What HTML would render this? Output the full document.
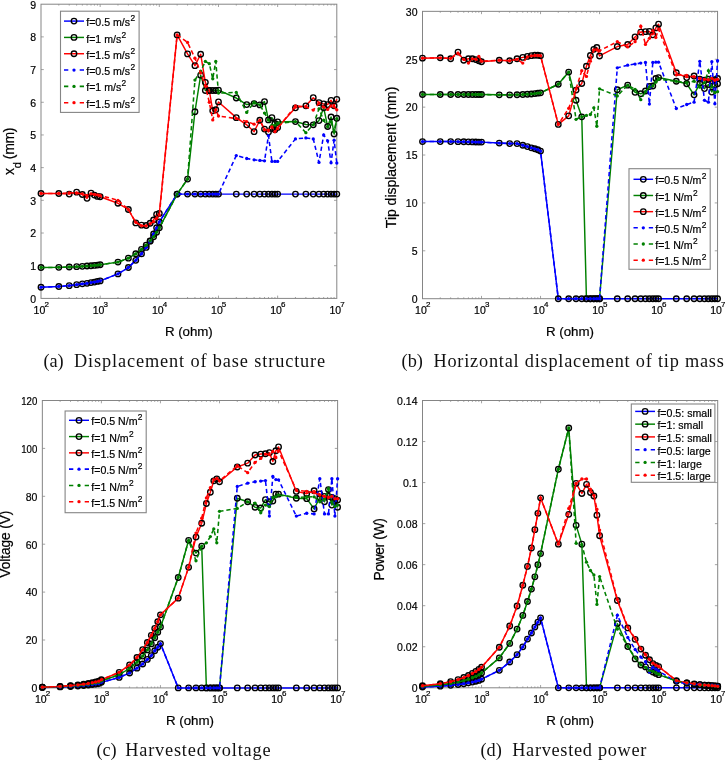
<!DOCTYPE html>
<html><head><meta charset="utf-8"><title>figure</title>
<style>
html,body{margin:0;padding:0;background:#fff;}
svg{display:block;font-family:"Liberation Sans",sans-serif;fill:#000;will-change:transform;}
svg text{stroke:#000;stroke-width:0.2px;}
svg text.cap{stroke:none;}
</style></head><body>
<svg width="725" height="761" viewBox="0 0 725 761">
<rect width="725" height="761" fill="#fff"/>
<g id="pa">
<path d="M58.81 298.4 v-1.4 M58.81 4.2 v1.4 M69.23 298.4 v-1.4 M69.23 4.2 v1.4 M76.62 298.4 v-1.4 M76.62 4.2 v1.4 M82.35 298.4 v-1.4 M82.35 4.2 v1.4 M87.04 298.4 v-1.4 M87.04 4.2 v1.4 M91 298.4 v-1.4 M91 4.2 v1.4 M94.43 298.4 v-1.4 M94.43 4.2 v1.4 M97.45 298.4 v-1.4 M97.45 4.2 v1.4 M100.16 298.4 v-2.8 M100.16 4.2 v2.8 M117.97 298.4 v-1.4 M117.97 4.2 v1.4 M128.39 298.4 v-1.4 M128.39 4.2 v1.4 M135.78 298.4 v-1.4 M135.78 4.2 v1.4 M141.51 298.4 v-1.4 M141.51 4.2 v1.4 M146.2 298.4 v-1.4 M146.2 4.2 v1.4 M150.16 298.4 v-1.4 M150.16 4.2 v1.4 M153.59 298.4 v-1.4 M153.59 4.2 v1.4 M156.61 298.4 v-1.4 M156.61 4.2 v1.4 M159.32 298.4 v-2.8 M159.32 4.2 v2.8 M177.13 298.4 v-1.4 M177.13 4.2 v1.4 M187.55 298.4 v-1.4 M187.55 4.2 v1.4 M194.94 298.4 v-1.4 M194.94 4.2 v1.4 M200.67 298.4 v-1.4 M200.67 4.2 v1.4 M205.36 298.4 v-1.4 M205.36 4.2 v1.4 M209.32 298.4 v-1.4 M209.32 4.2 v1.4 M212.75 298.4 v-1.4 M212.75 4.2 v1.4 M215.77 298.4 v-1.4 M215.77 4.2 v1.4 M218.48 298.4 v-2.8 M218.48 4.2 v2.8 M236.29 298.4 v-1.4 M236.29 4.2 v1.4 M246.71 298.4 v-1.4 M246.71 4.2 v1.4 M254.1 298.4 v-1.4 M254.1 4.2 v1.4 M259.83 298.4 v-1.4 M259.83 4.2 v1.4 M264.52 298.4 v-1.4 M264.52 4.2 v1.4 M268.48 298.4 v-1.4 M268.48 4.2 v1.4 M271.91 298.4 v-1.4 M271.91 4.2 v1.4 M274.93 298.4 v-1.4 M274.93 4.2 v1.4 M277.64 298.4 v-2.8 M277.64 4.2 v2.8 M295.45 298.4 v-1.4 M295.45 4.2 v1.4 M305.87 298.4 v-1.4 M305.87 4.2 v1.4 M313.26 298.4 v-1.4 M313.26 4.2 v1.4 M318.99 298.4 v-1.4 M318.99 4.2 v1.4 M323.68 298.4 v-1.4 M323.68 4.2 v1.4 M327.64 298.4 v-1.4 M327.64 4.2 v1.4 M331.07 298.4 v-1.4 M331.07 4.2 v1.4 M334.09 298.4 v-1.4 M334.09 4.2 v1.4 M41 265.71 h2.8 M336.8 265.71 h-2.8 M41 233.02 h2.8 M336.8 233.02 h-2.8 M41 200.33 h2.8 M336.8 200.33 h-2.8 M41 167.64 h2.8 M336.8 167.64 h-2.8 M41 134.96 h2.8 M336.8 134.96 h-2.8 M41 102.27 h2.8 M336.8 102.27 h-2.8 M41 69.58 h2.8 M336.8 69.58 h-2.8 M41 36.89 h2.8 M336.8 36.89 h-2.8" stroke="#9a9a9a" stroke-width="0.9" fill="none"/>
<rect x="41" y="4.2" width="295.8" height="294.2" fill="none" stroke="#858585" stroke-width="1"/>
<text x="36" y="302.7" text-anchor="end" font-size="10.5">0</text>
<text x="36" y="270.01" text-anchor="end" font-size="10.5">1</text>
<text x="36" y="237.32" text-anchor="end" font-size="10.5">2</text>
<text x="36" y="204.63" text-anchor="end" font-size="10.5">3</text>
<text x="36" y="171.94" text-anchor="end" font-size="10.5">4</text>
<text x="36" y="139.26" text-anchor="end" font-size="10.5">5</text>
<text x="36" y="106.57" text-anchor="end" font-size="10.5">6</text>
<text x="36" y="73.88" text-anchor="end" font-size="10.5">7</text>
<text x="36" y="41.19" text-anchor="end" font-size="10.5">8</text>
<text x="36" y="8.5" text-anchor="end" font-size="10.5">9</text>
<text x="33.6" y="313.8" font-size="10.5">10<tspan dy="-7.2" dx="-0.9" font-size="8">2</tspan></text>
<text x="92.76" y="313.8" font-size="10.5">10<tspan dy="-7.2" dx="-0.9" font-size="8">3</tspan></text>
<text x="151.92" y="313.8" font-size="10.5">10<tspan dy="-7.2" dx="-0.9" font-size="8">4</tspan></text>
<text x="211.08" y="313.8" font-size="10.5">10<tspan dy="-7.2" dx="-0.9" font-size="8">5</tspan></text>
<text x="270.24" y="313.8" font-size="10.5">10<tspan dy="-7.2" dx="-0.9" font-size="8">6</tspan></text>
<text x="329.4" y="313.8" font-size="10.5">10<tspan dy="-7.2" dx="-0.9" font-size="8">7</tspan></text>
<text x="188.9" y="335.8" text-anchor="middle" font-size="13.3" textLength="47.8" lengthAdjust="spacing">R (ohm)</text>
<text transform="translate(13.8 151.3) rotate(-90)" text-anchor="middle" font-size="14" textLength="47.3" lengthAdjust="spacing">x<tspan dy="6.8" font-size="11">d</tspan><tspan dy="-6.8"> (mm)</tspan></text>
<path d="M41 287.29 L58.81 286.47 L69.23 285.65 L76.62 284.67 L82.35 283.85 L87.04 283.36 L91 282.55 L94.43 282.06 L97.45 281.4 L100.16 280.91 L117.97 273.88 L128.39 267.51 L135.78 260.32 L141.51 253.78 L146.2 247.41 L150.16 241.19 L153.59 234 L156.61 227.79 L159.32 221.91 L177.13 194.12 L187.55 194.12 L194.94 194.12 L200.67 194.12 L205.36 194.12 L209.32 194.12 L212.75 194.12 L215.77 194.12 L218.48 194.12 L236.29 194.12 L246.71 194.12 L254.1 194.12 L259.83 194.12 L264.52 194.12 L268.48 194.12 L271.91 194.12 L274.93 194.12 L277.64 194.12 L295.45 194.12 L305.87 194.12 L313.26 194.12 L318.99 194.12 L323.68 194.12 L327.64 194.12 L331.07 194.12 L334.09 194.12 L336.8 194.12" fill="none" stroke="#0000ff" stroke-width="1.45" stroke-linejoin="round"/>
<g fill="none" stroke="#000" stroke-width="1.35"><circle cx="41" cy="287.29" r="2.75"/><circle cx="58.81" cy="286.47" r="2.75"/><circle cx="69.23" cy="285.65" r="2.75"/><circle cx="76.62" cy="284.67" r="2.75"/><circle cx="82.35" cy="283.85" r="2.75"/><circle cx="87.04" cy="283.36" r="2.75"/><circle cx="91" cy="282.55" r="2.75"/><circle cx="94.43" cy="282.06" r="2.75"/><circle cx="97.45" cy="281.4" r="2.75"/><circle cx="100.16" cy="280.91" r="2.75"/><circle cx="117.97" cy="273.88" r="2.75"/><circle cx="128.39" cy="267.51" r="2.75"/><circle cx="135.78" cy="260.32" r="2.75"/><circle cx="141.51" cy="253.78" r="2.75"/><circle cx="146.2" cy="247.41" r="2.75"/><circle cx="150.16" cy="241.19" r="2.75"/><circle cx="153.59" cy="234" r="2.75"/><circle cx="156.61" cy="227.79" r="2.75"/><circle cx="159.32" cy="221.91" r="2.75"/><circle cx="177.13" cy="194.12" r="2.75"/><circle cx="187.55" cy="194.12" r="2.75"/><circle cx="194.94" cy="194.12" r="2.75"/><circle cx="200.67" cy="194.12" r="2.75"/><circle cx="205.36" cy="194.12" r="2.75"/><circle cx="209.32" cy="194.12" r="2.75"/><circle cx="212.75" cy="194.12" r="2.75"/><circle cx="215.77" cy="194.12" r="2.75"/><circle cx="218.48" cy="194.12" r="2.75"/><circle cx="236.29" cy="194.12" r="2.75"/><circle cx="246.71" cy="194.12" r="2.75"/><circle cx="254.1" cy="194.12" r="2.75"/><circle cx="259.83" cy="194.12" r="2.75"/><circle cx="264.52" cy="194.12" r="2.75"/><circle cx="268.48" cy="194.12" r="2.75"/><circle cx="271.91" cy="194.12" r="2.75"/><circle cx="274.93" cy="194.12" r="2.75"/><circle cx="277.64" cy="194.12" r="2.75"/><circle cx="295.45" cy="194.12" r="2.75"/><circle cx="305.87" cy="194.12" r="2.75"/><circle cx="313.26" cy="194.12" r="2.75"/><circle cx="318.99" cy="194.12" r="2.75"/><circle cx="323.68" cy="194.12" r="2.75"/><circle cx="327.64" cy="194.12" r="2.75"/><circle cx="331.07" cy="194.12" r="2.75"/><circle cx="334.09" cy="194.12" r="2.75"/><circle cx="336.8" cy="194.12" r="2.75"/></g>
<path d="M41 267.51 L58.81 267.35 L69.23 267.02 L76.62 266.69 L82.35 266.36 L87.04 266.04 L91 265.71 L94.43 265.38 L97.45 265.06 L100.16 264.73 L117.97 262.12 L128.39 258.19 L135.78 253.78 L141.51 249.37 L146.2 245.12 L150.16 240.87 L153.59 236.78 L156.61 232.37 L159.32 227.79 L177.13 194.12 L187.55 179.09 L194.94 111.75 L200.67 75.13 L205.36 90.5 L209.32 90.5 L212.75 90.5 L215.77 90.5 L218.48 90.17 L236.29 98.02 L246.71 104.55 L254.1 103.57 L259.83 104.88 L264.52 101.61 L268.48 119.92 L271.91 117.63 L274.93 123.51 L277.64 121.88 L295.45 121.55 L305.87 124.5 L313.26 124.82 L318.99 120.57 L323.68 107.82 L327.64 126.46 L331.07 116.98 L334.09 133.97 L336.8 118.28" fill="none" stroke="#008000" stroke-width="1.45" stroke-linejoin="round"/>
<g fill="none" stroke="#000" stroke-width="1.35"><circle cx="41" cy="267.51" r="2.75"/><circle cx="58.81" cy="267.35" r="2.75"/><circle cx="69.23" cy="267.02" r="2.75"/><circle cx="76.62" cy="266.69" r="2.75"/><circle cx="82.35" cy="266.36" r="2.75"/><circle cx="87.04" cy="266.04" r="2.75"/><circle cx="91" cy="265.71" r="2.75"/><circle cx="94.43" cy="265.38" r="2.75"/><circle cx="97.45" cy="265.06" r="2.75"/><circle cx="100.16" cy="264.73" r="2.75"/><circle cx="117.97" cy="262.12" r="2.75"/><circle cx="128.39" cy="258.19" r="2.75"/><circle cx="135.78" cy="253.78" r="2.75"/><circle cx="141.51" cy="249.37" r="2.75"/><circle cx="146.2" cy="245.12" r="2.75"/><circle cx="150.16" cy="240.87" r="2.75"/><circle cx="153.59" cy="236.78" r="2.75"/><circle cx="156.61" cy="232.37" r="2.75"/><circle cx="159.32" cy="227.79" r="2.75"/><circle cx="177.13" cy="194.12" r="2.75"/><circle cx="187.55" cy="179.09" r="2.75"/><circle cx="194.94" cy="111.75" r="2.75"/><circle cx="200.67" cy="75.13" r="2.75"/><circle cx="205.36" cy="90.5" r="2.75"/><circle cx="209.32" cy="90.5" r="2.75"/><circle cx="212.75" cy="90.5" r="2.75"/><circle cx="215.77" cy="90.5" r="2.75"/><circle cx="218.48" cy="90.17" r="2.75"/><circle cx="236.29" cy="98.02" r="2.75"/><circle cx="246.71" cy="104.55" r="2.75"/><circle cx="254.1" cy="103.57" r="2.75"/><circle cx="259.83" cy="104.88" r="2.75"/><circle cx="264.52" cy="101.61" r="2.75"/><circle cx="268.48" cy="119.92" r="2.75"/><circle cx="271.91" cy="117.63" r="2.75"/><circle cx="274.93" cy="123.51" r="2.75"/><circle cx="277.64" cy="121.88" r="2.75"/><circle cx="295.45" cy="121.55" r="2.75"/><circle cx="305.87" cy="124.5" r="2.75"/><circle cx="313.26" cy="124.82" r="2.75"/><circle cx="318.99" cy="120.57" r="2.75"/><circle cx="323.68" cy="107.82" r="2.75"/><circle cx="327.64" cy="126.46" r="2.75"/><circle cx="331.07" cy="116.98" r="2.75"/><circle cx="334.09" cy="133.97" r="2.75"/><circle cx="336.8" cy="118.28" r="2.75"/></g>
<path d="M41 193.47 L58.81 193.47 L69.23 194.12 L76.62 192.16 L82.35 194.45 L87.04 198.37 L91 193.14 L94.43 195.1 L97.45 196.41 L100.16 196.74 L117.97 203.28 L128.39 209.49 L135.78 222.89 L141.51 225.18 L146.2 225.5 L150.16 223.22 L153.59 219.95 L156.61 214.39 L159.32 213.41 L177.13 34.93 L187.55 53.89 L194.94 65.66 L200.67 54.21 L205.36 82.33 L209.32 90.5 L212.75 110.77 L215.77 109.79 L218.48 101.94 L236.29 117.63 L246.71 124.82 L254.1 131.69 L259.83 120.25 L264.52 129.07 L268.48 132.01 L271.91 128.42 L274.93 129.73 L277.64 127.44 L295.45 107.82 L305.87 105.86 L313.26 97.69 L318.99 102.59 L323.68 103.9 L327.64 104.55 L331.07 100.31 L334.09 105.86 L336.8 99.32" fill="none" stroke="#ff0000" stroke-width="1.45" stroke-linejoin="round"/>
<g fill="none" stroke="#000" stroke-width="1.35"><circle cx="41" cy="193.47" r="2.75"/><circle cx="58.81" cy="193.47" r="2.75"/><circle cx="69.23" cy="194.12" r="2.75"/><circle cx="76.62" cy="192.16" r="2.75"/><circle cx="82.35" cy="194.45" r="2.75"/><circle cx="87.04" cy="198.37" r="2.75"/><circle cx="91" cy="193.14" r="2.75"/><circle cx="94.43" cy="195.1" r="2.75"/><circle cx="97.45" cy="196.41" r="2.75"/><circle cx="100.16" cy="196.74" r="2.75"/><circle cx="117.97" cy="203.28" r="2.75"/><circle cx="128.39" cy="209.49" r="2.75"/><circle cx="135.78" cy="222.89" r="2.75"/><circle cx="141.51" cy="225.18" r="2.75"/><circle cx="146.2" cy="225.5" r="2.75"/><circle cx="150.16" cy="223.22" r="2.75"/><circle cx="153.59" cy="219.95" r="2.75"/><circle cx="156.61" cy="214.39" r="2.75"/><circle cx="159.32" cy="213.41" r="2.75"/><circle cx="177.13" cy="34.93" r="2.75"/><circle cx="187.55" cy="53.89" r="2.75"/><circle cx="194.94" cy="65.66" r="2.75"/><circle cx="200.67" cy="54.21" r="2.75"/><circle cx="205.36" cy="82.33" r="2.75"/><circle cx="209.32" cy="90.5" r="2.75"/><circle cx="212.75" cy="110.77" r="2.75"/><circle cx="215.77" cy="109.79" r="2.75"/><circle cx="218.48" cy="101.94" r="2.75"/><circle cx="236.29" cy="117.63" r="2.75"/><circle cx="246.71" cy="124.82" r="2.75"/><circle cx="254.1" cy="131.69" r="2.75"/><circle cx="259.83" cy="120.25" r="2.75"/><circle cx="264.52" cy="129.07" r="2.75"/><circle cx="268.48" cy="132.01" r="2.75"/><circle cx="271.91" cy="128.42" r="2.75"/><circle cx="274.93" cy="129.73" r="2.75"/><circle cx="277.64" cy="127.44" r="2.75"/><circle cx="295.45" cy="107.82" r="2.75"/><circle cx="305.87" cy="105.86" r="2.75"/><circle cx="313.26" cy="97.69" r="2.75"/><circle cx="318.99" cy="102.59" r="2.75"/><circle cx="323.68" cy="103.9" r="2.75"/><circle cx="327.64" cy="104.55" r="2.75"/><circle cx="331.07" cy="100.31" r="2.75"/><circle cx="334.09" cy="105.86" r="2.75"/><circle cx="336.8" cy="99.32" r="2.75"/></g>
<path d="M41 287.29 L58.81 286.47 L69.23 285.65 L76.62 284.67 L82.35 283.85 L87.04 283.36 L91 282.55 L94.43 282.06 L97.45 281.4 L100.16 280.91 L117.97 273.88 L128.39 267.51 L135.78 260.32 L141.51 253.78 L146.2 247.41 L150.16 241.19 L153.59 234 L156.61 227.79 L159.32 221.91 L177.13 194.12 L187.55 194.12 L194.94 194.12 L200.67 194.12 L205.36 194.12 L209.32 194.12 L212.75 194.12 L215.77 194.12 L218.48 194.12 L236.29 155.55 L246.71 158.49 L254.1 159.8 L259.83 160.45 L264.52 160.78 L268.48 135.61 L271.91 161.43 L274.93 161.43 L277.64 161.43 L295.45 138.88 L305.87 137.9 L313.26 138.88 L318.99 162.41 L323.68 134.96 L327.64 140.84 L331.07 162.74 L334.09 140.19 L336.8 163.07" fill="none" stroke="#0000ff" stroke-width="1.55" stroke-dasharray="4.3 2.9"/>
<g fill="#0000ff"><circle cx="41" cy="287.29" r="1.65"/><circle cx="58.81" cy="286.47" r="1.65"/><circle cx="69.23" cy="285.65" r="1.65"/><circle cx="76.62" cy="284.67" r="1.65"/><circle cx="82.35" cy="283.85" r="1.65"/><circle cx="87.04" cy="283.36" r="1.65"/><circle cx="91" cy="282.55" r="1.65"/><circle cx="94.43" cy="282.06" r="1.65"/><circle cx="97.45" cy="281.4" r="1.65"/><circle cx="100.16" cy="280.91" r="1.65"/><circle cx="117.97" cy="273.88" r="1.65"/><circle cx="128.39" cy="267.51" r="1.65"/><circle cx="135.78" cy="260.32" r="1.65"/><circle cx="141.51" cy="253.78" r="1.65"/><circle cx="146.2" cy="247.41" r="1.65"/><circle cx="150.16" cy="241.19" r="1.65"/><circle cx="153.59" cy="234" r="1.65"/><circle cx="156.61" cy="227.79" r="1.65"/><circle cx="159.32" cy="221.91" r="1.65"/><circle cx="177.13" cy="194.12" r="1.65"/><circle cx="187.55" cy="194.12" r="1.65"/><circle cx="194.94" cy="194.12" r="1.65"/><circle cx="200.67" cy="194.12" r="1.65"/><circle cx="205.36" cy="194.12" r="1.65"/><circle cx="209.32" cy="194.12" r="1.65"/><circle cx="212.75" cy="194.12" r="1.65"/><circle cx="215.77" cy="194.12" r="1.65"/><circle cx="218.48" cy="194.12" r="1.65"/><circle cx="236.29" cy="155.55" r="1.65"/><circle cx="246.71" cy="158.49" r="1.65"/><circle cx="254.1" cy="159.8" r="1.65"/><circle cx="259.83" cy="160.45" r="1.65"/><circle cx="264.52" cy="160.78" r="1.65"/><circle cx="268.48" cy="135.61" r="1.65"/><circle cx="271.91" cy="161.43" r="1.65"/><circle cx="274.93" cy="161.43" r="1.65"/><circle cx="277.64" cy="161.43" r="1.65"/><circle cx="295.45" cy="138.88" r="1.65"/><circle cx="305.87" cy="137.9" r="1.65"/><circle cx="313.26" cy="138.88" r="1.65"/><circle cx="318.99" cy="162.41" r="1.65"/><circle cx="323.68" cy="134.96" r="1.65"/><circle cx="327.64" cy="140.84" r="1.65"/><circle cx="331.07" cy="162.74" r="1.65"/><circle cx="334.09" cy="140.19" r="1.65"/><circle cx="336.8" cy="163.07" r="1.65"/></g>
<path d="M41 267.51 L58.81 267.35 L69.23 267.02 L76.62 266.69 L82.35 266.36 L87.04 266.04 L91 265.71 L94.43 265.38 L97.45 265.06 L100.16 264.73 L117.97 262.12 L128.39 258.19 L135.78 253.78 L141.51 249.37 L146.2 245.12 L150.16 240.87 L153.59 236.78 L156.61 232.37 L159.32 227.79 L177.13 194.12 L187.55 179.09 L194.94 80.04 L200.67 71.21 L205.36 61.41 L209.32 63.69 L212.75 78.73 L215.77 61.41 L218.48 93.11 L236.29 92.46 L246.71 112.4 L254.1 102.27 L259.83 104.88 L264.52 113.05 L268.48 119.92 L271.91 125.15 L274.93 125.15 L277.64 123.51 L295.45 121.55 L305.87 132.67 L313.26 124.82 L318.99 108.8 L323.68 120.25 L327.64 126.78 L331.07 121.88 L334.09 131.69 L336.8 118.61" fill="none" stroke="#008000" stroke-width="1.55" stroke-dasharray="4.3 2.9"/>
<g fill="#008000"><circle cx="41" cy="267.51" r="1.65"/><circle cx="58.81" cy="267.35" r="1.65"/><circle cx="69.23" cy="267.02" r="1.65"/><circle cx="76.62" cy="266.69" r="1.65"/><circle cx="82.35" cy="266.36" r="1.65"/><circle cx="87.04" cy="266.04" r="1.65"/><circle cx="91" cy="265.71" r="1.65"/><circle cx="94.43" cy="265.38" r="1.65"/><circle cx="97.45" cy="265.06" r="1.65"/><circle cx="100.16" cy="264.73" r="1.65"/><circle cx="117.97" cy="262.12" r="1.65"/><circle cx="128.39" cy="258.19" r="1.65"/><circle cx="135.78" cy="253.78" r="1.65"/><circle cx="141.51" cy="249.37" r="1.65"/><circle cx="146.2" cy="245.12" r="1.65"/><circle cx="150.16" cy="240.87" r="1.65"/><circle cx="153.59" cy="236.78" r="1.65"/><circle cx="156.61" cy="232.37" r="1.65"/><circle cx="159.32" cy="227.79" r="1.65"/><circle cx="177.13" cy="194.12" r="1.65"/><circle cx="187.55" cy="179.09" r="1.65"/><circle cx="194.94" cy="80.04" r="1.65"/><circle cx="200.67" cy="71.21" r="1.65"/><circle cx="205.36" cy="61.41" r="1.65"/><circle cx="209.32" cy="63.69" r="1.65"/><circle cx="212.75" cy="78.73" r="1.65"/><circle cx="215.77" cy="61.41" r="1.65"/><circle cx="218.48" cy="93.11" r="1.65"/><circle cx="236.29" cy="92.46" r="1.65"/><circle cx="246.71" cy="112.4" r="1.65"/><circle cx="254.1" cy="102.27" r="1.65"/><circle cx="259.83" cy="104.88" r="1.65"/><circle cx="264.52" cy="113.05" r="1.65"/><circle cx="268.48" cy="119.92" r="1.65"/><circle cx="271.91" cy="125.15" r="1.65"/><circle cx="274.93" cy="125.15" r="1.65"/><circle cx="277.64" cy="123.51" r="1.65"/><circle cx="295.45" cy="121.55" r="1.65"/><circle cx="305.87" cy="132.67" r="1.65"/><circle cx="313.26" cy="124.82" r="1.65"/><circle cx="318.99" cy="108.8" r="1.65"/><circle cx="323.68" cy="120.25" r="1.65"/><circle cx="327.64" cy="126.78" r="1.65"/><circle cx="331.07" cy="121.88" r="1.65"/><circle cx="334.09" cy="131.69" r="1.65"/><circle cx="336.8" cy="118.61" r="1.65"/></g>
<path d="M41 193.47 L58.81 193.47 L69.23 192.81 L76.62 193.14 L82.35 193.8 L87.04 195.43 L91 193.8 L94.43 194.45 L97.45 194.78 L100.16 195.43 L117.97 200.33 L128.39 209.49 L135.78 222.23 L141.51 225.83 L146.2 225.83 L150.16 223.87 L153.59 221.58 L156.61 218.31 L159.32 215.04 L177.13 34.93 L187.55 42.45 L194.94 58.14 L200.67 72.85 L205.36 85.92 L209.32 102.27 L212.75 119.92 L215.77 109.79 L218.48 116 L236.29 118.61 L246.71 121.55 L254.1 124.17 L259.83 120.25 L264.52 129.73 L268.48 130.05 L271.91 126.78 L274.93 131.69 L277.64 128.42 L295.45 105.86 L305.87 106.84 L313.26 110.11 L318.99 103.25 L323.68 107.17 L327.64 109.46 L331.07 105.86 L334.09 106.84 L336.8 109.79" fill="none" stroke="#ff0000" stroke-width="1.55" stroke-dasharray="4.3 2.9"/>
<g fill="#ff0000"><circle cx="41" cy="193.47" r="1.65"/><circle cx="58.81" cy="193.47" r="1.65"/><circle cx="69.23" cy="192.81" r="1.65"/><circle cx="76.62" cy="193.14" r="1.65"/><circle cx="82.35" cy="193.8" r="1.65"/><circle cx="87.04" cy="195.43" r="1.65"/><circle cx="91" cy="193.8" r="1.65"/><circle cx="94.43" cy="194.45" r="1.65"/><circle cx="97.45" cy="194.78" r="1.65"/><circle cx="100.16" cy="195.43" r="1.65"/><circle cx="117.97" cy="200.33" r="1.65"/><circle cx="128.39" cy="209.49" r="1.65"/><circle cx="135.78" cy="222.23" r="1.65"/><circle cx="141.51" cy="225.83" r="1.65"/><circle cx="146.2" cy="225.83" r="1.65"/><circle cx="150.16" cy="223.87" r="1.65"/><circle cx="153.59" cy="221.58" r="1.65"/><circle cx="156.61" cy="218.31" r="1.65"/><circle cx="159.32" cy="215.04" r="1.65"/><circle cx="177.13" cy="34.93" r="1.65"/><circle cx="187.55" cy="42.45" r="1.65"/><circle cx="194.94" cy="58.14" r="1.65"/><circle cx="200.67" cy="72.85" r="1.65"/><circle cx="205.36" cy="85.92" r="1.65"/><circle cx="209.32" cy="102.27" r="1.65"/><circle cx="212.75" cy="119.92" r="1.65"/><circle cx="215.77" cy="109.79" r="1.65"/><circle cx="218.48" cy="116" r="1.65"/><circle cx="236.29" cy="118.61" r="1.65"/><circle cx="246.71" cy="121.55" r="1.65"/><circle cx="254.1" cy="124.17" r="1.65"/><circle cx="259.83" cy="120.25" r="1.65"/><circle cx="264.52" cy="129.73" r="1.65"/><circle cx="268.48" cy="130.05" r="1.65"/><circle cx="271.91" cy="126.78" r="1.65"/><circle cx="274.93" cy="131.69" r="1.65"/><circle cx="277.64" cy="128.42" r="1.65"/><circle cx="295.45" cy="105.86" r="1.65"/><circle cx="305.87" cy="106.84" r="1.65"/><circle cx="313.26" cy="110.11" r="1.65"/><circle cx="318.99" cy="103.25" r="1.65"/><circle cx="323.68" cy="107.17" r="1.65"/><circle cx="327.64" cy="109.46" r="1.65"/><circle cx="331.07" cy="105.86" r="1.65"/><circle cx="334.09" cy="106.84" r="1.65"/><circle cx="336.8" cy="109.79" r="1.65"/></g>
<rect x="60.5" y="11.2" width="78.6" height="101.2" fill="#fff" stroke="#858585" stroke-width="1.1"/>
<path d="M64 21.1 H84" stroke="#0000ff" stroke-width="1.45"/>
<circle cx="74" cy="21.1" r="2.75" fill="none" stroke="#000" stroke-width="1.35"/>
<text x="86.2" y="26.2" font-size="10.6">f=0.5 m/s<tspan dy="-5" dx="0.3" font-size="8.4">2</tspan></text>
<path d="M64 37.42 H84" stroke="#008000" stroke-width="1.45"/>
<circle cx="74" cy="37.42" r="2.75" fill="none" stroke="#000" stroke-width="1.35"/>
<text x="86.2" y="42.52" font-size="10.6">f=1 m/s<tspan dy="-5" dx="0.3" font-size="8.4">2</tspan></text>
<path d="M64 53.74 H84" stroke="#ff0000" stroke-width="1.45"/>
<circle cx="74" cy="53.74" r="2.75" fill="none" stroke="#000" stroke-width="1.35"/>
<text x="86.2" y="58.84" font-size="10.6">f=1.5 m/s<tspan dy="-5" dx="0.3" font-size="8.4">2</tspan></text>
<path d="M64 70.06 h4.3 M84 70.06 h-4.3" stroke="#0000ff" stroke-width="1.55"/>
<circle cx="74" cy="70.06" r="1.65" fill="#0000ff"/>
<text x="86.2" y="75.16" font-size="10.6">f=0.5 m/s<tspan dy="-5" dx="0.3" font-size="8.4">2</tspan></text>
<path d="M64 86.38 h4.3 M84 86.38 h-4.3" stroke="#008000" stroke-width="1.55"/>
<circle cx="74" cy="86.38" r="1.65" fill="#008000"/>
<text x="86.2" y="91.48" font-size="10.6">f=1 m/s<tspan dy="-5" dx="0.3" font-size="8.4">2</tspan></text>
<path d="M64 102.7 h4.3 M84 102.7 h-4.3" stroke="#ff0000" stroke-width="1.55"/>
<circle cx="74" cy="102.7" r="1.65" fill="#ff0000"/>
<text x="86.2" y="107.8" font-size="10.6">f=1.5 m/s<tspan dy="-5" dx="0.3" font-size="8.4">2</tspan></text>
<text x="43.4" y="367" class="cap" font-family="'Liberation Serif', serif" font-size="18.3" fill="#111">(a)</text><text x="74" y="367" class="cap" font-family="'Liberation Serif', serif" font-size="18.3" fill="#111" textLength="251.2" lengthAdjust="spacing">Displacement of base structure</text>
</g>
<g id="pb">
<path d="M440.26 298.7 v-1.4 M440.26 11.35 v1.4 M450.65 298.7 v-1.4 M450.65 11.35 v1.4 M458.03 298.7 v-1.4 M458.03 11.35 v1.4 M463.75 298.7 v-1.4 M463.75 11.35 v1.4 M468.42 298.7 v-1.4 M468.42 11.35 v1.4 M472.37 298.7 v-1.4 M472.37 11.35 v1.4 M475.79 298.7 v-1.4 M475.79 11.35 v1.4 M478.81 298.7 v-1.4 M478.81 11.35 v1.4 M481.51 298.7 v-2.8 M481.51 11.35 v2.8 M499.27 298.7 v-1.4 M499.27 11.35 v1.4 M509.66 298.7 v-1.4 M509.66 11.35 v1.4 M517.04 298.7 v-1.4 M517.04 11.35 v1.4 M522.76 298.7 v-1.4 M522.76 11.35 v1.4 M527.43 298.7 v-1.4 M527.43 11.35 v1.4 M531.38 298.7 v-1.4 M531.38 11.35 v1.4 M534.8 298.7 v-1.4 M534.8 11.35 v1.4 M537.82 298.7 v-1.4 M537.82 11.35 v1.4 M540.52 298.7 v-2.8 M540.52 11.35 v2.8 M558.28 298.7 v-1.4 M558.28 11.35 v1.4 M568.67 298.7 v-1.4 M568.67 11.35 v1.4 M576.05 298.7 v-1.4 M576.05 11.35 v1.4 M581.77 298.7 v-1.4 M581.77 11.35 v1.4 M586.44 298.7 v-1.4 M586.44 11.35 v1.4 M590.39 298.7 v-1.4 M590.39 11.35 v1.4 M593.81 298.7 v-1.4 M593.81 11.35 v1.4 M596.83 298.7 v-1.4 M596.83 11.35 v1.4 M599.53 298.7 v-2.8 M599.53 11.35 v2.8 M617.29 298.7 v-1.4 M617.29 11.35 v1.4 M627.68 298.7 v-1.4 M627.68 11.35 v1.4 M635.06 298.7 v-1.4 M635.06 11.35 v1.4 M640.78 298.7 v-1.4 M640.78 11.35 v1.4 M645.45 298.7 v-1.4 M645.45 11.35 v1.4 M649.4 298.7 v-1.4 M649.4 11.35 v1.4 M652.82 298.7 v-1.4 M652.82 11.35 v1.4 M655.84 298.7 v-1.4 M655.84 11.35 v1.4 M658.54 298.7 v-2.8 M658.54 11.35 v2.8 M676.3 298.7 v-1.4 M676.3 11.35 v1.4 M686.69 298.7 v-1.4 M686.69 11.35 v1.4 M694.07 298.7 v-1.4 M694.07 11.35 v1.4 M699.79 298.7 v-1.4 M699.79 11.35 v1.4 M704.46 298.7 v-1.4 M704.46 11.35 v1.4 M708.41 298.7 v-1.4 M708.41 11.35 v1.4 M711.83 298.7 v-1.4 M711.83 11.35 v1.4 M714.85 298.7 v-1.4 M714.85 11.35 v1.4 M422.5 250.81 h2.8 M717.55 250.81 h-2.8 M422.5 202.92 h2.8 M717.55 202.92 h-2.8 M422.5 155.03 h2.8 M717.55 155.03 h-2.8 M422.5 107.13 h2.8 M717.55 107.13 h-2.8 M422.5 59.24 h2.8 M717.55 59.24 h-2.8" stroke="#9a9a9a" stroke-width="0.9" fill="none"/>
<rect x="422.5" y="11.35" width="295.05" height="287.35" fill="none" stroke="#858585" stroke-width="1"/>
<text x="417.5" y="303" text-anchor="end" font-size="10.5">0</text>
<text x="417.5" y="255.11" text-anchor="end" font-size="10.5">5</text>
<text x="417.5" y="207.22" text-anchor="end" font-size="10.5">10</text>
<text x="417.5" y="159.33" text-anchor="end" font-size="10.5">15</text>
<text x="417.5" y="111.43" text-anchor="end" font-size="10.5">20</text>
<text x="417.5" y="63.54" text-anchor="end" font-size="10.5">25</text>
<text x="417.5" y="15.65" text-anchor="end" font-size="10.5">30</text>
<text x="415.1" y="314.1" font-size="10.5">10<tspan dy="-7.2" dx="-0.9" font-size="8">2</tspan></text>
<text x="474.11" y="314.1" font-size="10.5">10<tspan dy="-7.2" dx="-0.9" font-size="8">3</tspan></text>
<text x="533.12" y="314.1" font-size="10.5">10<tspan dy="-7.2" dx="-0.9" font-size="8">4</tspan></text>
<text x="592.13" y="314.1" font-size="10.5">10<tspan dy="-7.2" dx="-0.9" font-size="8">5</tspan></text>
<text x="651.14" y="314.1" font-size="10.5">10<tspan dy="-7.2" dx="-0.9" font-size="8">6</tspan></text>
<text x="710.15" y="314.1" font-size="10.5">10<tspan dy="-7.2" dx="-0.9" font-size="8">7</tspan></text>
<text x="570.02" y="335.8" text-anchor="middle" font-size="13.3" textLength="47.8" lengthAdjust="spacing">R (ohm)</text>
<text transform="translate(395.8 157.4) rotate(-90)" text-anchor="middle" font-size="14" textLength="141.5" lengthAdjust="spacing">Tip displacement (mm)</text>
<path d="M422.5 141.55 L440.26 141.55 L450.65 141.55 L458.03 141.65 L463.75 141.74 L468.42 141.84 L472.37 141.93 L475.79 142.03 L478.81 142.12 L481.51 142.12 L499.27 143.08 L509.66 143.55 L517.04 143.55 L522.76 145.27 L527.43 146.6 L531.38 147.84 L534.8 148.79 L537.82 149.74 L540.52 151.07 L558.28 298.7 L568.67 298.7 L576.05 298.7 L581.77 298.7 L586.44 298.7 L590.39 298.7 L593.81 298.7 L596.83 298.7 L599.53 298.7 L617.29 298.7 L627.68 298.7 L635.06 298.7 L640.78 298.7 L645.45 298.7 L649.4 298.7 L652.82 298.7 L655.84 298.7 L658.54 298.7 L676.3 298.7 L686.69 298.7 L694.07 298.7 L699.79 298.7 L704.46 298.7 L708.41 298.7 L711.83 298.7 L714.85 298.7 L717.55 298.7" fill="none" stroke="#0000ff" stroke-width="1.45" stroke-linejoin="round"/>
<g fill="none" stroke="#000" stroke-width="1.35"><circle cx="422.5" cy="141.55" r="2.75"/><circle cx="440.26" cy="141.55" r="2.75"/><circle cx="450.65" cy="141.55" r="2.75"/><circle cx="458.03" cy="141.65" r="2.75"/><circle cx="463.75" cy="141.74" r="2.75"/><circle cx="468.42" cy="141.84" r="2.75"/><circle cx="472.37" cy="141.93" r="2.75"/><circle cx="475.79" cy="142.03" r="2.75"/><circle cx="478.81" cy="142.12" r="2.75"/><circle cx="481.51" cy="142.12" r="2.75"/><circle cx="499.27" cy="143.08" r="2.75"/><circle cx="509.66" cy="143.55" r="2.75"/><circle cx="517.04" cy="143.55" r="2.75"/><circle cx="522.76" cy="145.27" r="2.75"/><circle cx="527.43" cy="146.6" r="2.75"/><circle cx="531.38" cy="147.84" r="2.75"/><circle cx="534.8" cy="148.79" r="2.75"/><circle cx="537.82" cy="149.74" r="2.75"/><circle cx="540.52" cy="151.07" r="2.75"/><circle cx="558.28" cy="298.7" r="2.75"/><circle cx="568.67" cy="298.7" r="2.75"/><circle cx="576.05" cy="298.7" r="2.75"/><circle cx="581.77" cy="298.7" r="2.75"/><circle cx="586.44" cy="298.7" r="2.75"/><circle cx="590.39" cy="298.7" r="2.75"/><circle cx="593.81" cy="298.7" r="2.75"/><circle cx="596.83" cy="298.7" r="2.75"/><circle cx="599.53" cy="298.7" r="2.75"/><circle cx="617.29" cy="298.7" r="2.75"/><circle cx="627.68" cy="298.7" r="2.75"/><circle cx="635.06" cy="298.7" r="2.75"/><circle cx="640.78" cy="298.7" r="2.75"/><circle cx="645.45" cy="298.7" r="2.75"/><circle cx="649.4" cy="298.7" r="2.75"/><circle cx="652.82" cy="298.7" r="2.75"/><circle cx="655.84" cy="298.7" r="2.75"/><circle cx="658.54" cy="298.7" r="2.75"/><circle cx="676.3" cy="298.7" r="2.75"/><circle cx="686.69" cy="298.7" r="2.75"/><circle cx="694.07" cy="298.7" r="2.75"/><circle cx="699.79" cy="298.7" r="2.75"/><circle cx="704.46" cy="298.7" r="2.75"/><circle cx="708.41" cy="298.7" r="2.75"/><circle cx="711.83" cy="298.7" r="2.75"/><circle cx="714.85" cy="298.7" r="2.75"/><circle cx="717.55" cy="298.7" r="2.75"/></g>
<path d="M422.5 94.52 L440.26 94.52 L450.65 94.52 L458.03 94.52 L463.75 94.52 L468.42 94.52 L472.37 94.52 L475.79 94.52 L478.81 94.52 L481.51 94.52 L499.27 94.81 L509.66 94.9 L517.04 94.71 L522.76 94.52 L527.43 94.24 L531.38 93.95 L534.8 93.57 L537.82 93.19 L540.52 92.81 L558.28 84.24 L568.67 72.06 L576.05 100.24 L581.77 116.8 L586.44 298.7 L590.39 298.7 L593.81 298.7 L596.83 298.7 L599.53 298.7 L617.29 89.76 L627.68 85.19 L635.06 92.33 L640.78 93.76 L645.45 91 L649.4 86.53 L652.82 85.96 L655.84 78.53 L658.54 77.58 L676.3 81.29 L686.69 83.77 L694.07 94.81 L699.79 83.1 L704.46 88.62 L708.41 84.53 L711.83 92.05 L714.85 85 L717.55 83.77" fill="none" stroke="#008000" stroke-width="1.45" stroke-linejoin="round"/>
<g fill="none" stroke="#000" stroke-width="1.35"><circle cx="422.5" cy="94.52" r="2.75"/><circle cx="440.26" cy="94.52" r="2.75"/><circle cx="450.65" cy="94.52" r="2.75"/><circle cx="458.03" cy="94.52" r="2.75"/><circle cx="463.75" cy="94.52" r="2.75"/><circle cx="468.42" cy="94.52" r="2.75"/><circle cx="472.37" cy="94.52" r="2.75"/><circle cx="475.79" cy="94.52" r="2.75"/><circle cx="478.81" cy="94.52" r="2.75"/><circle cx="481.51" cy="94.52" r="2.75"/><circle cx="499.27" cy="94.81" r="2.75"/><circle cx="509.66" cy="94.9" r="2.75"/><circle cx="517.04" cy="94.71" r="2.75"/><circle cx="522.76" cy="94.52" r="2.75"/><circle cx="527.43" cy="94.24" r="2.75"/><circle cx="531.38" cy="93.95" r="2.75"/><circle cx="534.8" cy="93.57" r="2.75"/><circle cx="537.82" cy="93.19" r="2.75"/><circle cx="540.52" cy="92.81" r="2.75"/><circle cx="558.28" cy="84.24" r="2.75"/><circle cx="568.67" cy="72.06" r="2.75"/><circle cx="576.05" cy="100.24" r="2.75"/><circle cx="581.77" cy="116.8" r="2.75"/><circle cx="586.44" cy="298.7" r="2.75"/><circle cx="590.39" cy="298.7" r="2.75"/><circle cx="593.81" cy="298.7" r="2.75"/><circle cx="596.83" cy="298.7" r="2.75"/><circle cx="599.53" cy="298.7" r="2.75"/><circle cx="617.29" cy="89.76" r="2.75"/><circle cx="627.68" cy="85.19" r="2.75"/><circle cx="635.06" cy="92.33" r="2.75"/><circle cx="640.78" cy="93.76" r="2.75"/><circle cx="645.45" cy="91" r="2.75"/><circle cx="649.4" cy="86.53" r="2.75"/><circle cx="652.82" cy="85.96" r="2.75"/><circle cx="655.84" cy="78.53" r="2.75"/><circle cx="658.54" cy="77.58" r="2.75"/><circle cx="676.3" cy="81.29" r="2.75"/><circle cx="686.69" cy="83.77" r="2.75"/><circle cx="694.07" cy="94.81" r="2.75"/><circle cx="699.79" cy="83.1" r="2.75"/><circle cx="704.46" cy="88.62" r="2.75"/><circle cx="708.41" cy="84.53" r="2.75"/><circle cx="711.83" cy="92.05" r="2.75"/><circle cx="714.85" cy="85" r="2.75"/><circle cx="717.55" cy="83.77" r="2.75"/></g>
<path d="M422.5 58.16 L440.26 57.78 L450.65 58.73 L458.03 52.06 L463.75 60.25 L468.42 58.73 L472.37 58.73 L475.79 59.59 L478.81 60.73 L481.51 61.78 L499.27 60.25 L509.66 60.73 L517.04 58.73 L522.76 57.4 L527.43 56.44 L531.38 55.68 L534.8 55.21 L537.82 55.21 L540.52 55.68 L558.28 124.42 L568.67 115.85 L576.05 90.05 L581.77 83.48 L586.44 66.25 L590.39 55.49 L593.81 49.3 L596.83 47.5 L599.53 55.97 L617.29 46.54 L627.68 44.54 L635.06 36.93 L640.78 32.07 L645.45 31.69 L649.4 31.41 L652.82 34.83 L655.84 27.88 L658.54 24.17 L676.3 72.72 L686.69 77.58 L694.07 75.96 L699.79 79.29 L704.46 80.24 L708.41 79.29 L711.83 81.2 L714.85 79.77 L717.55 78.53" fill="none" stroke="#ff0000" stroke-width="1.45" stroke-linejoin="round"/>
<g fill="none" stroke="#000" stroke-width="1.35"><circle cx="422.5" cy="58.16" r="2.75"/><circle cx="440.26" cy="57.78" r="2.75"/><circle cx="450.65" cy="58.73" r="2.75"/><circle cx="458.03" cy="52.06" r="2.75"/><circle cx="463.75" cy="60.25" r="2.75"/><circle cx="468.42" cy="58.73" r="2.75"/><circle cx="472.37" cy="58.73" r="2.75"/><circle cx="475.79" cy="59.59" r="2.75"/><circle cx="478.81" cy="60.73" r="2.75"/><circle cx="481.51" cy="61.78" r="2.75"/><circle cx="499.27" cy="60.25" r="2.75"/><circle cx="509.66" cy="60.73" r="2.75"/><circle cx="517.04" cy="58.73" r="2.75"/><circle cx="522.76" cy="57.4" r="2.75"/><circle cx="527.43" cy="56.44" r="2.75"/><circle cx="531.38" cy="55.68" r="2.75"/><circle cx="534.8" cy="55.21" r="2.75"/><circle cx="537.82" cy="55.21" r="2.75"/><circle cx="540.52" cy="55.68" r="2.75"/><circle cx="558.28" cy="124.42" r="2.75"/><circle cx="568.67" cy="115.85" r="2.75"/><circle cx="576.05" cy="90.05" r="2.75"/><circle cx="581.77" cy="83.48" r="2.75"/><circle cx="586.44" cy="66.25" r="2.75"/><circle cx="590.39" cy="55.49" r="2.75"/><circle cx="593.81" cy="49.3" r="2.75"/><circle cx="596.83" cy="47.5" r="2.75"/><circle cx="599.53" cy="55.97" r="2.75"/><circle cx="617.29" cy="46.54" r="2.75"/><circle cx="627.68" cy="44.54" r="2.75"/><circle cx="635.06" cy="36.93" r="2.75"/><circle cx="640.78" cy="32.07" r="2.75"/><circle cx="645.45" cy="31.69" r="2.75"/><circle cx="649.4" cy="31.41" r="2.75"/><circle cx="652.82" cy="34.83" r="2.75"/><circle cx="655.84" cy="27.88" r="2.75"/><circle cx="658.54" cy="24.17" r="2.75"/><circle cx="676.3" cy="72.72" r="2.75"/><circle cx="686.69" cy="77.58" r="2.75"/><circle cx="694.07" cy="75.96" r="2.75"/><circle cx="699.79" cy="79.29" r="2.75"/><circle cx="704.46" cy="80.24" r="2.75"/><circle cx="708.41" cy="79.29" r="2.75"/><circle cx="711.83" cy="81.2" r="2.75"/><circle cx="714.85" cy="79.77" r="2.75"/><circle cx="717.55" cy="78.53" r="2.75"/></g>
<path d="M422.5 141.55 L440.26 141.55 L450.65 141.55 L458.03 141.65 L463.75 141.74 L468.42 141.84 L472.37 141.93 L475.79 142.03 L478.81 142.12 L481.51 142.12 L499.27 143.08 L509.66 143.55 L517.04 143.55 L522.76 145.27 L527.43 146.6 L531.38 147.84 L534.8 148.79 L537.82 149.74 L540.52 151.07 L558.28 298.7 L568.67 298.7 L576.05 298.7 L581.77 298.7 L586.44 298.7 L590.39 298.7 L593.81 298.7 L596.83 298.7 L599.53 298.7 L617.29 67.87 L627.68 65.2 L635.06 64.06 L640.78 63.11 L645.45 62.44 L649.4 104.04 L652.82 62.44 L655.84 62.16 L658.54 62.16 L676.3 108.61 L686.69 104.52 L694.07 102.14 L699.79 61.3 L704.46 100.33 L708.41 102.14 L711.83 61.68 L714.85 103.76 L717.55 60.73" fill="none" stroke="#0000ff" stroke-width="1.55" stroke-dasharray="4.3 2.9"/>
<g fill="#0000ff"><circle cx="422.5" cy="141.55" r="1.65"/><circle cx="440.26" cy="141.55" r="1.65"/><circle cx="450.65" cy="141.55" r="1.65"/><circle cx="458.03" cy="141.65" r="1.65"/><circle cx="463.75" cy="141.74" r="1.65"/><circle cx="468.42" cy="141.84" r="1.65"/><circle cx="472.37" cy="141.93" r="1.65"/><circle cx="475.79" cy="142.03" r="1.65"/><circle cx="478.81" cy="142.12" r="1.65"/><circle cx="481.51" cy="142.12" r="1.65"/><circle cx="499.27" cy="143.08" r="1.65"/><circle cx="509.66" cy="143.55" r="1.65"/><circle cx="517.04" cy="143.55" r="1.65"/><circle cx="522.76" cy="145.27" r="1.65"/><circle cx="527.43" cy="146.6" r="1.65"/><circle cx="531.38" cy="147.84" r="1.65"/><circle cx="534.8" cy="148.79" r="1.65"/><circle cx="537.82" cy="149.74" r="1.65"/><circle cx="540.52" cy="151.07" r="1.65"/><circle cx="558.28" cy="298.7" r="1.65"/><circle cx="568.67" cy="298.7" r="1.65"/><circle cx="576.05" cy="298.7" r="1.65"/><circle cx="581.77" cy="298.7" r="1.65"/><circle cx="586.44" cy="298.7" r="1.65"/><circle cx="590.39" cy="298.7" r="1.65"/><circle cx="593.81" cy="298.7" r="1.65"/><circle cx="596.83" cy="298.7" r="1.65"/><circle cx="599.53" cy="298.7" r="1.65"/><circle cx="617.29" cy="67.87" r="1.65"/><circle cx="627.68" cy="65.2" r="1.65"/><circle cx="635.06" cy="64.06" r="1.65"/><circle cx="640.78" cy="63.11" r="1.65"/><circle cx="645.45" cy="62.44" r="1.65"/><circle cx="649.4" cy="104.04" r="1.65"/><circle cx="652.82" cy="62.44" r="1.65"/><circle cx="655.84" cy="62.16" r="1.65"/><circle cx="658.54" cy="62.16" r="1.65"/><circle cx="676.3" cy="108.61" r="1.65"/><circle cx="686.69" cy="104.52" r="1.65"/><circle cx="694.07" cy="102.14" r="1.65"/><circle cx="699.79" cy="61.3" r="1.65"/><circle cx="704.46" cy="100.33" r="1.65"/><circle cx="708.41" cy="102.14" r="1.65"/><circle cx="711.83" cy="61.68" r="1.65"/><circle cx="714.85" cy="103.76" r="1.65"/><circle cx="717.55" cy="60.73" r="1.65"/></g>
<path d="M422.5 94.52 L440.26 94.52 L450.65 94.52 L458.03 94.52 L463.75 94.52 L468.42 94.52 L472.37 94.52 L475.79 94.52 L478.81 94.52 L481.51 94.52 L499.27 94.81 L509.66 94.9 L517.04 94.71 L522.76 94.52 L527.43 94.24 L531.38 93.95 L534.8 93.57 L537.82 93.19 L540.52 92.81 L558.28 84.24 L568.67 72.06 L576.05 119.28 L581.77 116.8 L586.44 115.47 L590.39 114.52 L593.81 107.85 L596.83 126.23 L599.53 88.81 L617.29 95.95 L627.68 85.19 L635.06 89.29 L640.78 99.66 L645.45 91.67 L649.4 86.91 L652.82 85.96 L655.84 82.15 L658.54 79.29 L676.3 81.29 L686.69 82.62 L694.07 81.2 L699.79 87.19 L704.46 82.62 L708.41 70.72 L711.83 86.91 L714.85 92.72 L717.55 91.67" fill="none" stroke="#008000" stroke-width="1.55" stroke-dasharray="4.3 2.9"/>
<g fill="#008000"><circle cx="422.5" cy="94.52" r="1.65"/><circle cx="440.26" cy="94.52" r="1.65"/><circle cx="450.65" cy="94.52" r="1.65"/><circle cx="458.03" cy="94.52" r="1.65"/><circle cx="463.75" cy="94.52" r="1.65"/><circle cx="468.42" cy="94.52" r="1.65"/><circle cx="472.37" cy="94.52" r="1.65"/><circle cx="475.79" cy="94.52" r="1.65"/><circle cx="478.81" cy="94.52" r="1.65"/><circle cx="481.51" cy="94.52" r="1.65"/><circle cx="499.27" cy="94.81" r="1.65"/><circle cx="509.66" cy="94.9" r="1.65"/><circle cx="517.04" cy="94.71" r="1.65"/><circle cx="522.76" cy="94.52" r="1.65"/><circle cx="527.43" cy="94.24" r="1.65"/><circle cx="531.38" cy="93.95" r="1.65"/><circle cx="534.8" cy="93.57" r="1.65"/><circle cx="537.82" cy="93.19" r="1.65"/><circle cx="540.52" cy="92.81" r="1.65"/><circle cx="558.28" cy="84.24" r="1.65"/><circle cx="568.67" cy="72.06" r="1.65"/><circle cx="576.05" cy="119.28" r="1.65"/><circle cx="581.77" cy="116.8" r="1.65"/><circle cx="586.44" cy="115.47" r="1.65"/><circle cx="590.39" cy="114.52" r="1.65"/><circle cx="593.81" cy="107.85" r="1.65"/><circle cx="596.83" cy="126.23" r="1.65"/><circle cx="599.53" cy="88.81" r="1.65"/><circle cx="617.29" cy="95.95" r="1.65"/><circle cx="627.68" cy="85.19" r="1.65"/><circle cx="635.06" cy="89.29" r="1.65"/><circle cx="640.78" cy="99.66" r="1.65"/><circle cx="645.45" cy="91.67" r="1.65"/><circle cx="649.4" cy="86.91" r="1.65"/><circle cx="652.82" cy="85.96" r="1.65"/><circle cx="655.84" cy="82.15" r="1.65"/><circle cx="658.54" cy="79.29" r="1.65"/><circle cx="676.3" cy="81.29" r="1.65"/><circle cx="686.69" cy="82.62" r="1.65"/><circle cx="694.07" cy="81.2" r="1.65"/><circle cx="699.79" cy="87.19" r="1.65"/><circle cx="704.46" cy="82.62" r="1.65"/><circle cx="708.41" cy="70.72" r="1.65"/><circle cx="711.83" cy="86.91" r="1.65"/><circle cx="714.85" cy="92.72" r="1.65"/><circle cx="717.55" cy="91.67" r="1.65"/></g>
<path d="M422.5 58.16 L440.26 57.78 L450.65 58.35 L458.03 53.59 L463.75 59.3 L468.42 63.11 L472.37 58.82 L475.79 59.3 L478.81 56.44 L481.51 61.2 L499.27 60.25 L509.66 60.73 L517.04 59.3 L522.76 63.11 L527.43 56.92 L531.38 55.97 L534.8 55.49 L537.82 55.49 L540.52 55.68 L558.28 124.42 L568.67 108.33 L576.05 88.81 L581.77 70.72 L586.44 76.44 L590.39 61.2 L593.81 49.78 L596.83 49.78 L599.53 50.73 L617.29 41.69 L627.68 46.92 L635.06 41.69 L640.78 26.27 L645.45 44.45 L649.4 38.36 L652.82 30.74 L655.84 37.4 L658.54 29.31 L676.3 74.82 L686.69 75.48 L694.07 76.91 L699.79 78.34 L704.46 79.29 L708.41 79.77 L711.83 78.34 L714.85 80.24 L717.55 79.29" fill="none" stroke="#ff0000" stroke-width="1.55" stroke-dasharray="4.3 2.9"/>
<g fill="#ff0000"><circle cx="422.5" cy="58.16" r="1.65"/><circle cx="440.26" cy="57.78" r="1.65"/><circle cx="450.65" cy="58.35" r="1.65"/><circle cx="458.03" cy="53.59" r="1.65"/><circle cx="463.75" cy="59.3" r="1.65"/><circle cx="468.42" cy="63.11" r="1.65"/><circle cx="472.37" cy="58.82" r="1.65"/><circle cx="475.79" cy="59.3" r="1.65"/><circle cx="478.81" cy="56.44" r="1.65"/><circle cx="481.51" cy="61.2" r="1.65"/><circle cx="499.27" cy="60.25" r="1.65"/><circle cx="509.66" cy="60.73" r="1.65"/><circle cx="517.04" cy="59.3" r="1.65"/><circle cx="522.76" cy="63.11" r="1.65"/><circle cx="527.43" cy="56.92" r="1.65"/><circle cx="531.38" cy="55.97" r="1.65"/><circle cx="534.8" cy="55.49" r="1.65"/><circle cx="537.82" cy="55.49" r="1.65"/><circle cx="540.52" cy="55.68" r="1.65"/><circle cx="558.28" cy="124.42" r="1.65"/><circle cx="568.67" cy="108.33" r="1.65"/><circle cx="576.05" cy="88.81" r="1.65"/><circle cx="581.77" cy="70.72" r="1.65"/><circle cx="586.44" cy="76.44" r="1.65"/><circle cx="590.39" cy="61.2" r="1.65"/><circle cx="593.81" cy="49.78" r="1.65"/><circle cx="596.83" cy="49.78" r="1.65"/><circle cx="599.53" cy="50.73" r="1.65"/><circle cx="617.29" cy="41.69" r="1.65"/><circle cx="627.68" cy="46.92" r="1.65"/><circle cx="635.06" cy="41.69" r="1.65"/><circle cx="640.78" cy="26.27" r="1.65"/><circle cx="645.45" cy="44.45" r="1.65"/><circle cx="649.4" cy="38.36" r="1.65"/><circle cx="652.82" cy="30.74" r="1.65"/><circle cx="655.84" cy="37.4" r="1.65"/><circle cx="658.54" cy="29.31" r="1.65"/><circle cx="676.3" cy="74.82" r="1.65"/><circle cx="686.69" cy="75.48" r="1.65"/><circle cx="694.07" cy="76.91" r="1.65"/><circle cx="699.79" cy="78.34" r="1.65"/><circle cx="704.46" cy="79.29" r="1.65"/><circle cx="708.41" cy="79.77" r="1.65"/><circle cx="711.83" cy="78.34" r="1.65"/><circle cx="714.85" cy="80.24" r="1.65"/><circle cx="717.55" cy="79.29" r="1.65"/></g>
<rect x="629" y="168.7" width="81.2" height="100.6" fill="#fff" stroke="#858585" stroke-width="1.1"/>
<path d="M633.5 179.3 H653.1" stroke="#0000ff" stroke-width="1.45"/>
<circle cx="643.3" cy="179.3" r="2.75" fill="none" stroke="#000" stroke-width="1.35"/>
<text x="655.2" y="184.4" font-size="10.6">f=0.5 N/m<tspan dy="-5" dx="0.3" font-size="8.4">2</tspan></text>
<path d="M633.5 195.48 H653.1" stroke="#008000" stroke-width="1.45"/>
<circle cx="643.3" cy="195.48" r="2.75" fill="none" stroke="#000" stroke-width="1.35"/>
<text x="655.2" y="200.58" font-size="10.6">f=1 N/m<tspan dy="-5" dx="0.3" font-size="8.4">2</tspan></text>
<path d="M633.5 211.66 H653.1" stroke="#ff0000" stroke-width="1.45"/>
<circle cx="643.3" cy="211.66" r="2.75" fill="none" stroke="#000" stroke-width="1.35"/>
<text x="655.2" y="216.76" font-size="10.6">f=1.5 N/m<tspan dy="-5" dx="0.3" font-size="8.4">2</tspan></text>
<path d="M633.5 227.84 h4.3 M653.1 227.84 h-4.3" stroke="#0000ff" stroke-width="1.55"/>
<circle cx="643.3" cy="227.84" r="1.65" fill="#0000ff"/>
<text x="655.2" y="232.94" font-size="10.6">f=0.5 N/m<tspan dy="-5" dx="0.3" font-size="8.4">2</tspan></text>
<path d="M633.5 244.02 h4.3 M653.1 244.02 h-4.3" stroke="#008000" stroke-width="1.55"/>
<circle cx="643.3" cy="244.02" r="1.65" fill="#008000"/>
<text x="655.2" y="249.12" font-size="10.6">f=1 N/m<tspan dy="-5" dx="0.3" font-size="8.4">2</tspan></text>
<path d="M633.5 260.2 h4.3 M653.1 260.2 h-4.3" stroke="#ff0000" stroke-width="1.55"/>
<circle cx="643.3" cy="260.2" r="1.65" fill="#ff0000"/>
<text x="655.2" y="265.3" font-size="10.6">f=1.5 N/m<tspan dy="-5" dx="0.3" font-size="8.4">2</tspan></text>
<text x="401.6" y="367" class="cap" font-family="'Liberation Serif', serif" font-size="18.3" fill="#111">(b)</text><text x="433.5" y="367" class="cap" font-family="'Liberation Serif', serif" font-size="18.3" fill="#111" textLength="290.3" lengthAdjust="spacing">Horizontal displacement of tip mass</text>
</g>
<g id="pc">
<path d="M60.13 687.9 v-1.4 M60.13 400.5 v1.4 M70.52 687.9 v-1.4 M70.52 400.5 v1.4 M77.9 687.9 v-1.4 M77.9 400.5 v1.4 M83.62 687.9 v-1.4 M83.62 400.5 v1.4 M88.3 687.9 v-1.4 M88.3 400.5 v1.4 M92.25 687.9 v-1.4 M92.25 400.5 v1.4 M95.68 687.9 v-1.4 M95.68 400.5 v1.4 M98.7 687.9 v-1.4 M98.7 400.5 v1.4 M101.4 687.9 v-2.8 M101.4 400.5 v2.8 M119.18 687.9 v-1.4 M119.18 400.5 v1.4 M129.57 687.9 v-1.4 M129.57 400.5 v1.4 M136.95 687.9 v-1.4 M136.95 400.5 v1.4 M142.67 687.9 v-1.4 M142.67 400.5 v1.4 M147.35 687.9 v-1.4 M147.35 400.5 v1.4 M151.3 687.9 v-1.4 M151.3 400.5 v1.4 M154.73 687.9 v-1.4 M154.73 400.5 v1.4 M157.75 687.9 v-1.4 M157.75 400.5 v1.4 M160.45 687.9 v-2.8 M160.45 400.5 v2.8 M178.23 687.9 v-1.4 M178.23 400.5 v1.4 M188.62 687.9 v-1.4 M188.62 400.5 v1.4 M196 687.9 v-1.4 M196 400.5 v1.4 M201.72 687.9 v-1.4 M201.72 400.5 v1.4 M206.4 687.9 v-1.4 M206.4 400.5 v1.4 M210.35 687.9 v-1.4 M210.35 400.5 v1.4 M213.78 687.9 v-1.4 M213.78 400.5 v1.4 M216.8 687.9 v-1.4 M216.8 400.5 v1.4 M219.5 687.9 v-2.8 M219.5 400.5 v2.8 M237.28 687.9 v-1.4 M237.28 400.5 v1.4 M247.67 687.9 v-1.4 M247.67 400.5 v1.4 M255.05 687.9 v-1.4 M255.05 400.5 v1.4 M260.77 687.9 v-1.4 M260.77 400.5 v1.4 M265.45 687.9 v-1.4 M265.45 400.5 v1.4 M269.4 687.9 v-1.4 M269.4 400.5 v1.4 M272.83 687.9 v-1.4 M272.83 400.5 v1.4 M275.85 687.9 v-1.4 M275.85 400.5 v1.4 M278.55 687.9 v-2.8 M278.55 400.5 v2.8 M296.33 687.9 v-1.4 M296.33 400.5 v1.4 M306.72 687.9 v-1.4 M306.72 400.5 v1.4 M314.1 687.9 v-1.4 M314.1 400.5 v1.4 M319.82 687.9 v-1.4 M319.82 400.5 v1.4 M324.5 687.9 v-1.4 M324.5 400.5 v1.4 M328.45 687.9 v-1.4 M328.45 400.5 v1.4 M331.88 687.9 v-1.4 M331.88 400.5 v1.4 M334.9 687.9 v-1.4 M334.9 400.5 v1.4 M42.35 640 h2.8 M337.6 640 h-2.8 M42.35 592.1 h2.8 M337.6 592.1 h-2.8 M42.35 544.2 h2.8 M337.6 544.2 h-2.8 M42.35 496.3 h2.8 M337.6 496.3 h-2.8 M42.35 448.4 h2.8 M337.6 448.4 h-2.8" stroke="#9a9a9a" stroke-width="0.9" fill="none"/>
<rect x="42.35" y="400.5" width="295.25" height="287.4" fill="none" stroke="#858585" stroke-width="1"/>
<text x="37.35" y="692.2" text-anchor="end" font-size="10.5">0</text>
<text x="37.35" y="644.3" text-anchor="end" font-size="10.5">20</text>
<text x="37.35" y="596.4" text-anchor="end" font-size="10.5">40</text>
<text x="37.35" y="548.5" text-anchor="end" font-size="10.5">60</text>
<text x="37.35" y="500.6" text-anchor="end" font-size="10.5">80</text>
<text x="37.35" y="452.7" text-anchor="end" font-size="10.5" textLength="16.1" lengthAdjust="spacingAndGlyphs">100</text>
<text x="37.35" y="404.8" text-anchor="end" font-size="10.5" textLength="16.1" lengthAdjust="spacingAndGlyphs">120</text>
<text x="34.95" y="703.3" font-size="10.5">10<tspan dy="-7.2" dx="-0.9" font-size="8">2</tspan></text>
<text x="94" y="703.3" font-size="10.5">10<tspan dy="-7.2" dx="-0.9" font-size="8">3</tspan></text>
<text x="153.05" y="703.3" font-size="10.5">10<tspan dy="-7.2" dx="-0.9" font-size="8">4</tspan></text>
<text x="212.1" y="703.3" font-size="10.5">10<tspan dy="-7.2" dx="-0.9" font-size="8">5</tspan></text>
<text x="271.15" y="703.3" font-size="10.5">10<tspan dy="-7.2" dx="-0.9" font-size="8">6</tspan></text>
<text x="330.2" y="703.3" font-size="10.5">10<tspan dy="-7.2" dx="-0.9" font-size="8">7</tspan></text>
<text x="189.98" y="724.8" text-anchor="middle" font-size="13.3" textLength="47.8" lengthAdjust="spacing">R (ohm)</text>
<text transform="translate(10.2 544.1) rotate(-90)" text-anchor="middle" font-size="13.8" textLength="67.1" lengthAdjust="spacing">Voltage (V)</text>
<path d="M42.35 687.42 L60.13 686.94 L70.52 686.46 L77.9 685.98 L83.62 685.5 L88.3 685.03 L92.25 684.55 L95.68 684.07 L98.7 683.59 L101.4 682.33 L119.18 677.44 L129.57 673.03 L136.95 668.14 L142.67 663.97 L147.35 659.43 L151.3 655.62 L154.73 650.73 L157.75 647.27 L160.45 643.57 L178.23 687.9 L188.62 687.9 L196 687.9 L201.72 687.9 L206.4 687.9 L210.35 687.9 L213.78 687.9 L216.8 687.9 L219.5 687.9 L237.28 687.9 L247.67 687.9 L255.05 687.9 L260.77 687.9 L265.45 687.9 L269.4 687.9 L272.83 687.9 L275.85 687.9 L278.55 687.9 L296.33 687.9 L306.72 687.9 L314.1 687.9 L319.82 687.9 L324.5 687.9 L328.45 687.9 L331.88 687.9 L334.9 687.9 L337.6 687.9" fill="none" stroke="#0000ff" stroke-width="1.45" stroke-linejoin="round"/>
<g fill="none" stroke="#000" stroke-width="1.35"><circle cx="42.35" cy="687.42" r="2.75"/><circle cx="60.13" cy="686.94" r="2.75"/><circle cx="70.52" cy="686.46" r="2.75"/><circle cx="77.9" cy="685.98" r="2.75"/><circle cx="83.62" cy="685.5" r="2.75"/><circle cx="88.3" cy="685.03" r="2.75"/><circle cx="92.25" cy="684.55" r="2.75"/><circle cx="95.68" cy="684.07" r="2.75"/><circle cx="98.7" cy="683.59" r="2.75"/><circle cx="101.4" cy="682.33" r="2.75"/><circle cx="119.18" cy="677.44" r="2.75"/><circle cx="129.57" cy="673.03" r="2.75"/><circle cx="136.95" cy="668.14" r="2.75"/><circle cx="142.67" cy="663.97" r="2.75"/><circle cx="147.35" cy="659.43" r="2.75"/><circle cx="151.3" cy="655.62" r="2.75"/><circle cx="154.73" cy="650.73" r="2.75"/><circle cx="157.75" cy="647.27" r="2.75"/><circle cx="160.45" cy="643.57" r="2.75"/><circle cx="178.23" cy="687.9" r="2.75"/><circle cx="188.62" cy="687.9" r="2.75"/><circle cx="196" cy="687.9" r="2.75"/><circle cx="201.72" cy="687.9" r="2.75"/><circle cx="206.4" cy="687.9" r="2.75"/><circle cx="210.35" cy="687.9" r="2.75"/><circle cx="213.78" cy="687.9" r="2.75"/><circle cx="216.8" cy="687.9" r="2.75"/><circle cx="219.5" cy="687.9" r="2.75"/><circle cx="237.28" cy="687.9" r="2.75"/><circle cx="247.67" cy="687.9" r="2.75"/><circle cx="255.05" cy="687.9" r="2.75"/><circle cx="260.77" cy="687.9" r="2.75"/><circle cx="265.45" cy="687.9" r="2.75"/><circle cx="269.4" cy="687.9" r="2.75"/><circle cx="272.83" cy="687.9" r="2.75"/><circle cx="275.85" cy="687.9" r="2.75"/><circle cx="278.55" cy="687.9" r="2.75"/><circle cx="296.33" cy="687.9" r="2.75"/><circle cx="306.72" cy="687.9" r="2.75"/><circle cx="314.1" cy="687.9" r="2.75"/><circle cx="319.82" cy="687.9" r="2.75"/><circle cx="324.5" cy="687.9" r="2.75"/><circle cx="328.45" cy="687.9" r="2.75"/><circle cx="331.88" cy="687.9" r="2.75"/><circle cx="334.9" cy="687.9" r="2.75"/><circle cx="337.6" cy="687.9" r="2.75"/></g>
<path d="M42.35 687.28 L60.13 686.65 L70.52 686.03 L77.9 685.41 L83.62 684.79 L88.3 684.16 L92.25 683.54 L95.68 682.92 L98.7 682.3 L101.4 680.9 L119.18 674.7 L129.57 668.5 L136.95 662.3 L142.67 656.1 L147.35 649.89 L151.3 643.93 L154.73 637.73 L157.75 632.25 L160.45 627 L178.23 577.51 L188.62 540.3 L196 553.06 L201.72 546.15 L206.4 687.9 L210.35 687.9 L213.78 687.9 L216.8 687.9 L219.5 687.9 L237.28 498.21 L247.67 501.79 L255.05 507.27 L260.77 507.99 L265.45 499.64 L269.4 501.79 L272.83 501.07 L275.85 494.15 L278.55 494.15 L296.33 498.21 L306.72 498.69 L314.1 508.94 L319.82 497.49 L324.5 501.79 L328.45 489.62 L331.88 505.12 L334.9 501.07 L337.6 507.27" fill="none" stroke="#008000" stroke-width="1.45" stroke-linejoin="round"/>
<g fill="none" stroke="#000" stroke-width="1.35"><circle cx="42.35" cy="687.28" r="2.75"/><circle cx="60.13" cy="686.65" r="2.75"/><circle cx="70.52" cy="686.03" r="2.75"/><circle cx="77.9" cy="685.41" r="2.75"/><circle cx="83.62" cy="684.79" r="2.75"/><circle cx="88.3" cy="684.16" r="2.75"/><circle cx="92.25" cy="683.54" r="2.75"/><circle cx="95.68" cy="682.92" r="2.75"/><circle cx="98.7" cy="682.3" r="2.75"/><circle cx="101.4" cy="680.9" r="2.75"/><circle cx="119.18" cy="674.7" r="2.75"/><circle cx="129.57" cy="668.5" r="2.75"/><circle cx="136.95" cy="662.3" r="2.75"/><circle cx="142.67" cy="656.1" r="2.75"/><circle cx="147.35" cy="649.89" r="2.75"/><circle cx="151.3" cy="643.93" r="2.75"/><circle cx="154.73" cy="637.73" r="2.75"/><circle cx="157.75" cy="632.25" r="2.75"/><circle cx="160.45" cy="627" r="2.75"/><circle cx="178.23" cy="577.51" r="2.75"/><circle cx="188.62" cy="540.3" r="2.75"/><circle cx="196" cy="553.06" r="2.75"/><circle cx="201.72" cy="546.15" r="2.75"/><circle cx="206.4" cy="687.9" r="2.75"/><circle cx="210.35" cy="687.9" r="2.75"/><circle cx="213.78" cy="687.9" r="2.75"/><circle cx="216.8" cy="687.9" r="2.75"/><circle cx="219.5" cy="687.9" r="2.75"/><circle cx="237.28" cy="498.21" r="2.75"/><circle cx="247.67" cy="501.79" r="2.75"/><circle cx="255.05" cy="507.27" r="2.75"/><circle cx="260.77" cy="507.99" r="2.75"/><circle cx="265.45" cy="499.64" r="2.75"/><circle cx="269.4" cy="501.79" r="2.75"/><circle cx="272.83" cy="501.07" r="2.75"/><circle cx="275.85" cy="494.15" r="2.75"/><circle cx="278.55" cy="494.15" r="2.75"/><circle cx="296.33" cy="498.21" r="2.75"/><circle cx="306.72" cy="498.69" r="2.75"/><circle cx="314.1" cy="508.94" r="2.75"/><circle cx="319.82" cy="497.49" r="2.75"/><circle cx="324.5" cy="501.79" r="2.75"/><circle cx="328.45" cy="489.62" r="2.75"/><circle cx="331.88" cy="505.12" r="2.75"/><circle cx="334.9" cy="501.07" r="2.75"/><circle cx="337.6" cy="507.27" r="2.75"/></g>
<path d="M42.35 687.16 L60.13 686.42 L70.52 685.67 L77.9 684.93 L83.62 684.19 L88.3 683.45 L92.25 682.7 L95.68 681.96 L98.7 681.22 L101.4 679.71 L119.18 672.31 L129.57 664.92 L136.95 657.53 L142.67 649.66 L147.35 642.5 L151.3 635.35 L154.73 628.43 L157.75 621.75 L160.45 614.83 L178.23 598.14 L188.62 567.37 L196 537.08 L201.72 523.25 L206.4 503.46 L210.35 492.25 L213.78 480.8 L216.8 478.89 L219.5 481.75 L237.28 466.96 L247.67 463.15 L255.05 455.04 L260.77 454.09 L265.45 453.73 L269.4 452.65 L272.83 461.48 L275.85 450.75 L278.55 446.93 L296.33 491.41 L306.72 493.68 L314.1 490.7 L319.82 493.92 L324.5 496.3 L328.45 496.3 L331.88 497.49 L334.9 498.69 L337.6 500.12" fill="none" stroke="#ff0000" stroke-width="1.45" stroke-linejoin="round"/>
<g fill="none" stroke="#000" stroke-width="1.35"><circle cx="42.35" cy="687.16" r="2.75"/><circle cx="60.13" cy="686.42" r="2.75"/><circle cx="70.52" cy="685.67" r="2.75"/><circle cx="77.9" cy="684.93" r="2.75"/><circle cx="83.62" cy="684.19" r="2.75"/><circle cx="88.3" cy="683.45" r="2.75"/><circle cx="92.25" cy="682.7" r="2.75"/><circle cx="95.68" cy="681.96" r="2.75"/><circle cx="98.7" cy="681.22" r="2.75"/><circle cx="101.4" cy="679.71" r="2.75"/><circle cx="119.18" cy="672.31" r="2.75"/><circle cx="129.57" cy="664.92" r="2.75"/><circle cx="136.95" cy="657.53" r="2.75"/><circle cx="142.67" cy="649.66" r="2.75"/><circle cx="147.35" cy="642.5" r="2.75"/><circle cx="151.3" cy="635.35" r="2.75"/><circle cx="154.73" cy="628.43" r="2.75"/><circle cx="157.75" cy="621.75" r="2.75"/><circle cx="160.45" cy="614.83" r="2.75"/><circle cx="178.23" cy="598.14" r="2.75"/><circle cx="188.62" cy="567.37" r="2.75"/><circle cx="196" cy="537.08" r="2.75"/><circle cx="201.72" cy="523.25" r="2.75"/><circle cx="206.4" cy="503.46" r="2.75"/><circle cx="210.35" cy="492.25" r="2.75"/><circle cx="213.78" cy="480.8" r="2.75"/><circle cx="216.8" cy="478.89" r="2.75"/><circle cx="219.5" cy="481.75" r="2.75"/><circle cx="237.28" cy="466.96" r="2.75"/><circle cx="247.67" cy="463.15" r="2.75"/><circle cx="255.05" cy="455.04" r="2.75"/><circle cx="260.77" cy="454.09" r="2.75"/><circle cx="265.45" cy="453.73" r="2.75"/><circle cx="269.4" cy="452.65" r="2.75"/><circle cx="272.83" cy="461.48" r="2.75"/><circle cx="275.85" cy="450.75" r="2.75"/><circle cx="278.55" cy="446.93" r="2.75"/><circle cx="296.33" cy="491.41" r="2.75"/><circle cx="306.72" cy="493.68" r="2.75"/><circle cx="314.1" cy="490.7" r="2.75"/><circle cx="319.82" cy="493.92" r="2.75"/><circle cx="324.5" cy="496.3" r="2.75"/><circle cx="328.45" cy="496.3" r="2.75"/><circle cx="331.88" cy="497.49" r="2.75"/><circle cx="334.9" cy="498.69" r="2.75"/><circle cx="337.6" cy="500.12" r="2.75"/></g>
<path d="M42.35 687.42 L60.13 686.94 L70.52 686.46 L77.9 685.98 L83.62 685.5 L88.3 685.03 L92.25 684.55 L95.68 684.07 L98.7 683.59 L101.4 682.33 L119.18 677.44 L129.57 673.03 L136.95 668.14 L142.67 663.97 L147.35 659.43 L151.3 655.62 L154.73 650.73 L157.75 647.27 L160.45 643.57 L178.23 687.9 L188.62 687.9 L196 687.9 L201.72 687.9 L206.4 687.9 L210.35 687.9 L213.78 687.9 L216.8 687.9 L219.5 687.9 L237.28 486.52 L247.67 483.18 L255.05 481.75 L260.77 481.04 L265.45 480.56 L269.4 516.1 L272.83 476.5 L275.85 479.61 L278.55 479.84 L296.33 516.1 L306.72 513.23 L314.1 513.95 L319.82 478.65 L324.5 513.95 L328.45 513.95 L331.88 478.65 L334.9 516.1 L337.6 478.65" fill="none" stroke="#0000ff" stroke-width="1.55" stroke-dasharray="4.3 2.9"/>
<g fill="#0000ff"><circle cx="42.35" cy="687.42" r="1.65"/><circle cx="60.13" cy="686.94" r="1.65"/><circle cx="70.52" cy="686.46" r="1.65"/><circle cx="77.9" cy="685.98" r="1.65"/><circle cx="83.62" cy="685.5" r="1.65"/><circle cx="88.3" cy="685.03" r="1.65"/><circle cx="92.25" cy="684.55" r="1.65"/><circle cx="95.68" cy="684.07" r="1.65"/><circle cx="98.7" cy="683.59" r="1.65"/><circle cx="101.4" cy="682.33" r="1.65"/><circle cx="119.18" cy="677.44" r="1.65"/><circle cx="129.57" cy="673.03" r="1.65"/><circle cx="136.95" cy="668.14" r="1.65"/><circle cx="142.67" cy="663.97" r="1.65"/><circle cx="147.35" cy="659.43" r="1.65"/><circle cx="151.3" cy="655.62" r="1.65"/><circle cx="154.73" cy="650.73" r="1.65"/><circle cx="157.75" cy="647.27" r="1.65"/><circle cx="160.45" cy="643.57" r="1.65"/><circle cx="178.23" cy="687.9" r="1.65"/><circle cx="188.62" cy="687.9" r="1.65"/><circle cx="196" cy="687.9" r="1.65"/><circle cx="201.72" cy="687.9" r="1.65"/><circle cx="206.4" cy="687.9" r="1.65"/><circle cx="210.35" cy="687.9" r="1.65"/><circle cx="213.78" cy="687.9" r="1.65"/><circle cx="216.8" cy="687.9" r="1.65"/><circle cx="219.5" cy="687.9" r="1.65"/><circle cx="237.28" cy="486.52" r="1.65"/><circle cx="247.67" cy="483.18" r="1.65"/><circle cx="255.05" cy="481.75" r="1.65"/><circle cx="260.77" cy="481.04" r="1.65"/><circle cx="265.45" cy="480.56" r="1.65"/><circle cx="269.4" cy="516.1" r="1.65"/><circle cx="272.83" cy="476.5" r="1.65"/><circle cx="275.85" cy="479.61" r="1.65"/><circle cx="278.55" cy="479.84" r="1.65"/><circle cx="296.33" cy="516.1" r="1.65"/><circle cx="306.72" cy="513.23" r="1.65"/><circle cx="314.1" cy="513.95" r="1.65"/><circle cx="319.82" cy="478.65" r="1.65"/><circle cx="324.5" cy="513.95" r="1.65"/><circle cx="328.45" cy="513.95" r="1.65"/><circle cx="331.88" cy="478.65" r="1.65"/><circle cx="334.9" cy="516.1" r="1.65"/><circle cx="337.6" cy="478.65" r="1.65"/></g>
<path d="M42.35 687.28 L60.13 686.65 L70.52 686.03 L77.9 685.41 L83.62 684.79 L88.3 684.16 L92.25 683.54 L95.68 682.92 L98.7 682.3 L101.4 680.9 L119.18 674.7 L129.57 668.5 L136.95 662.3 L142.67 656.1 L147.35 649.89 L151.3 643.93 L154.73 637.73 L157.75 632.25 L160.45 627 L178.23 577.51 L188.62 540.3 L196 560.7 L201.72 546.15 L206.4 542.81 L210.35 536.61 L213.78 528.97 L216.8 542.81 L219.5 511.33 L237.28 508.46 L247.67 501.79 L255.05 503.22 L260.77 512.76 L265.45 505.12 L269.4 506.56 L272.83 497.49 L275.85 496.78 L278.55 495.11 L296.33 497.25 L306.72 497.02 L314.1 496.78 L319.82 501.79 L324.5 498.92 L328.45 488.67 L331.88 501.79 L334.9 506.56 L337.6 505.12" fill="none" stroke="#008000" stroke-width="1.55" stroke-dasharray="4.3 2.9"/>
<g fill="#008000"><circle cx="42.35" cy="687.28" r="1.65"/><circle cx="60.13" cy="686.65" r="1.65"/><circle cx="70.52" cy="686.03" r="1.65"/><circle cx="77.9" cy="685.41" r="1.65"/><circle cx="83.62" cy="684.79" r="1.65"/><circle cx="88.3" cy="684.16" r="1.65"/><circle cx="92.25" cy="683.54" r="1.65"/><circle cx="95.68" cy="682.92" r="1.65"/><circle cx="98.7" cy="682.3" r="1.65"/><circle cx="101.4" cy="680.9" r="1.65"/><circle cx="119.18" cy="674.7" r="1.65"/><circle cx="129.57" cy="668.5" r="1.65"/><circle cx="136.95" cy="662.3" r="1.65"/><circle cx="142.67" cy="656.1" r="1.65"/><circle cx="147.35" cy="649.89" r="1.65"/><circle cx="151.3" cy="643.93" r="1.65"/><circle cx="154.73" cy="637.73" r="1.65"/><circle cx="157.75" cy="632.25" r="1.65"/><circle cx="160.45" cy="627" r="1.65"/><circle cx="178.23" cy="577.51" r="1.65"/><circle cx="188.62" cy="540.3" r="1.65"/><circle cx="196" cy="560.7" r="1.65"/><circle cx="201.72" cy="546.15" r="1.65"/><circle cx="206.4" cy="542.81" r="1.65"/><circle cx="210.35" cy="536.61" r="1.65"/><circle cx="213.78" cy="528.97" r="1.65"/><circle cx="216.8" cy="542.81" r="1.65"/><circle cx="219.5" cy="511.33" r="1.65"/><circle cx="237.28" cy="508.46" r="1.65"/><circle cx="247.67" cy="501.79" r="1.65"/><circle cx="255.05" cy="503.22" r="1.65"/><circle cx="260.77" cy="512.76" r="1.65"/><circle cx="265.45" cy="505.12" r="1.65"/><circle cx="269.4" cy="506.56" r="1.65"/><circle cx="272.83" cy="497.49" r="1.65"/><circle cx="275.85" cy="496.78" r="1.65"/><circle cx="278.55" cy="495.11" r="1.65"/><circle cx="296.33" cy="497.25" r="1.65"/><circle cx="306.72" cy="497.02" r="1.65"/><circle cx="314.1" cy="496.78" r="1.65"/><circle cx="319.82" cy="501.79" r="1.65"/><circle cx="324.5" cy="498.92" r="1.65"/><circle cx="328.45" cy="488.67" r="1.65"/><circle cx="331.88" cy="501.79" r="1.65"/><circle cx="334.9" cy="506.56" r="1.65"/><circle cx="337.6" cy="505.12" r="1.65"/></g>
<path d="M42.35 687.16 L60.13 686.42 L70.52 685.67 L77.9 684.93 L83.62 684.19 L88.3 683.45 L92.25 682.7 L95.68 681.96 L98.7 681.22 L101.4 679.71 L119.18 672.31 L129.57 664.92 L136.95 657.53 L142.67 649.66 L147.35 642.5 L151.3 635.35 L154.73 628.43 L157.75 621.75 L160.45 614.83 L178.23 598.14 L188.62 567.37 L196 533.03 L201.72 518.24 L206.4 497.97 L210.35 487.71 L213.78 479.61 L216.8 478.41 L219.5 480.8 L237.28 465.77 L247.67 472.69 L255.05 462.43 L260.77 458.38 L265.45 454.09 L269.4 454.56 L272.83 451.46 L275.85 457.66 L278.55 450.75 L296.33 490.1 L306.72 491.41 L314.1 492.72 L319.82 495.11 L324.5 496.3 L328.45 497.49 L331.88 496.3 L334.9 498.69 L337.6 498.69" fill="none" stroke="#ff0000" stroke-width="1.55" stroke-dasharray="4.3 2.9"/>
<g fill="#ff0000"><circle cx="42.35" cy="687.16" r="1.65"/><circle cx="60.13" cy="686.42" r="1.65"/><circle cx="70.52" cy="685.67" r="1.65"/><circle cx="77.9" cy="684.93" r="1.65"/><circle cx="83.62" cy="684.19" r="1.65"/><circle cx="88.3" cy="683.45" r="1.65"/><circle cx="92.25" cy="682.7" r="1.65"/><circle cx="95.68" cy="681.96" r="1.65"/><circle cx="98.7" cy="681.22" r="1.65"/><circle cx="101.4" cy="679.71" r="1.65"/><circle cx="119.18" cy="672.31" r="1.65"/><circle cx="129.57" cy="664.92" r="1.65"/><circle cx="136.95" cy="657.53" r="1.65"/><circle cx="142.67" cy="649.66" r="1.65"/><circle cx="147.35" cy="642.5" r="1.65"/><circle cx="151.3" cy="635.35" r="1.65"/><circle cx="154.73" cy="628.43" r="1.65"/><circle cx="157.75" cy="621.75" r="1.65"/><circle cx="160.45" cy="614.83" r="1.65"/><circle cx="178.23" cy="598.14" r="1.65"/><circle cx="188.62" cy="567.37" r="1.65"/><circle cx="196" cy="533.03" r="1.65"/><circle cx="201.72" cy="518.24" r="1.65"/><circle cx="206.4" cy="497.97" r="1.65"/><circle cx="210.35" cy="487.71" r="1.65"/><circle cx="213.78" cy="479.61" r="1.65"/><circle cx="216.8" cy="478.41" r="1.65"/><circle cx="219.5" cy="480.8" r="1.65"/><circle cx="237.28" cy="465.77" r="1.65"/><circle cx="247.67" cy="472.69" r="1.65"/><circle cx="255.05" cy="462.43" r="1.65"/><circle cx="260.77" cy="458.38" r="1.65"/><circle cx="265.45" cy="454.09" r="1.65"/><circle cx="269.4" cy="454.56" r="1.65"/><circle cx="272.83" cy="451.46" r="1.65"/><circle cx="275.85" cy="457.66" r="1.65"/><circle cx="278.55" cy="450.75" r="1.65"/><circle cx="296.33" cy="490.1" r="1.65"/><circle cx="306.72" cy="491.41" r="1.65"/><circle cx="314.1" cy="492.72" r="1.65"/><circle cx="319.82" cy="495.11" r="1.65"/><circle cx="324.5" cy="496.3" r="1.65"/><circle cx="328.45" cy="497.49" r="1.65"/><circle cx="331.88" cy="496.3" r="1.65"/><circle cx="334.9" cy="498.69" r="1.65"/><circle cx="337.6" cy="498.69" r="1.65"/></g>
<rect x="65.1" y="411" width="81.1" height="101.7" fill="#fff" stroke="#858585" stroke-width="1.1"/>
<path d="M69 420.3 H89" stroke="#0000ff" stroke-width="1.45"/>
<circle cx="79" cy="420.3" r="2.75" fill="none" stroke="#000" stroke-width="1.35"/>
<text x="91.3" y="425.4" font-size="10.6">f=0.5 N/m<tspan dy="-5" dx="0.3" font-size="8.4">2</tspan></text>
<path d="M69 436.58 H89" stroke="#008000" stroke-width="1.45"/>
<circle cx="79" cy="436.58" r="2.75" fill="none" stroke="#000" stroke-width="1.35"/>
<text x="91.3" y="441.68" font-size="10.6">f=1 N/m<tspan dy="-5" dx="0.3" font-size="8.4">2</tspan></text>
<path d="M69 452.86 H89" stroke="#ff0000" stroke-width="1.45"/>
<circle cx="79" cy="452.86" r="2.75" fill="none" stroke="#000" stroke-width="1.35"/>
<text x="91.3" y="457.96" font-size="10.6">f=1.5 N/m<tspan dy="-5" dx="0.3" font-size="8.4">2</tspan></text>
<path d="M69 469.14 h4.3 M89 469.14 h-4.3" stroke="#0000ff" stroke-width="1.55"/>
<circle cx="79" cy="469.14" r="1.65" fill="#0000ff"/>
<text x="91.3" y="474.24" font-size="10.6">f=0.5 N/m<tspan dy="-5" dx="0.3" font-size="8.4">2</tspan></text>
<path d="M69 485.42 h4.3 M89 485.42 h-4.3" stroke="#008000" stroke-width="1.55"/>
<circle cx="79" cy="485.42" r="1.65" fill="#008000"/>
<text x="91.3" y="490.52" font-size="10.6">f=1 N/m<tspan dy="-5" dx="0.3" font-size="8.4">2</tspan></text>
<path d="M69 501.7 h4.3 M89 501.7 h-4.3" stroke="#ff0000" stroke-width="1.55"/>
<circle cx="79" cy="501.7" r="1.65" fill="#ff0000"/>
<text x="91.3" y="506.8" font-size="10.6">f=1.5 N/m<tspan dy="-5" dx="0.3" font-size="8.4">2</tspan></text>
<text x="96.4" y="756.3" class="cap" font-family="'Liberation Serif', serif" font-size="18.3" fill="#111">(c)</text><text x="125.3" y="756.3" class="cap" font-family="'Liberation Serif', serif" font-size="18.3" fill="#111" textLength="145.2" lengthAdjust="spacing">Harvested voltage</text>
</g>
<g id="pd">
<path d="M440.27 687.8 v-1.4 M440.27 400.5 v1.4 M450.67 687.8 v-1.4 M450.67 400.5 v1.4 M458.05 687.8 v-1.4 M458.05 400.5 v1.4 M463.77 687.8 v-1.4 M463.77 400.5 v1.4 M468.44 687.8 v-1.4 M468.44 400.5 v1.4 M472.39 687.8 v-1.4 M472.39 400.5 v1.4 M475.82 687.8 v-1.4 M475.82 400.5 v1.4 M478.84 687.8 v-1.4 M478.84 400.5 v1.4 M481.54 687.8 v-2.8 M481.54 400.5 v2.8 M499.31 687.8 v-1.4 M499.31 400.5 v1.4 M509.71 687.8 v-1.4 M509.71 400.5 v1.4 M517.09 687.8 v-1.4 M517.09 400.5 v1.4 M522.81 687.8 v-1.4 M522.81 400.5 v1.4 M527.48 687.8 v-1.4 M527.48 400.5 v1.4 M531.43 687.8 v-1.4 M531.43 400.5 v1.4 M534.86 687.8 v-1.4 M534.86 400.5 v1.4 M537.88 687.8 v-1.4 M537.88 400.5 v1.4 M540.58 687.8 v-2.8 M540.58 400.5 v2.8 M558.35 687.8 v-1.4 M558.35 400.5 v1.4 M568.75 687.8 v-1.4 M568.75 400.5 v1.4 M576.13 687.8 v-1.4 M576.13 400.5 v1.4 M581.85 687.8 v-1.4 M581.85 400.5 v1.4 M586.52 687.8 v-1.4 M586.52 400.5 v1.4 M590.47 687.8 v-1.4 M590.47 400.5 v1.4 M593.9 687.8 v-1.4 M593.9 400.5 v1.4 M596.92 687.8 v-1.4 M596.92 400.5 v1.4 M599.62 687.8 v-2.8 M599.62 400.5 v2.8 M617.39 687.8 v-1.4 M617.39 400.5 v1.4 M627.79 687.8 v-1.4 M627.79 400.5 v1.4 M635.17 687.8 v-1.4 M635.17 400.5 v1.4 M640.89 687.8 v-1.4 M640.89 400.5 v1.4 M645.56 687.8 v-1.4 M645.56 400.5 v1.4 M649.51 687.8 v-1.4 M649.51 400.5 v1.4 M652.94 687.8 v-1.4 M652.94 400.5 v1.4 M655.96 687.8 v-1.4 M655.96 400.5 v1.4 M658.66 687.8 v-2.8 M658.66 400.5 v2.8 M676.43 687.8 v-1.4 M676.43 400.5 v1.4 M686.83 687.8 v-1.4 M686.83 400.5 v1.4 M694.21 687.8 v-1.4 M694.21 400.5 v1.4 M699.93 687.8 v-1.4 M699.93 400.5 v1.4 M704.6 687.8 v-1.4 M704.6 400.5 v1.4 M708.55 687.8 v-1.4 M708.55 400.5 v1.4 M711.98 687.8 v-1.4 M711.98 400.5 v1.4 M715 687.8 v-1.4 M715 400.5 v1.4 M422.5 646.76 h2.8 M717.7 646.76 h-2.8 M422.5 605.71 h2.8 M717.7 605.71 h-2.8 M422.5 564.67 h2.8 M717.7 564.67 h-2.8 M422.5 523.63 h2.8 M717.7 523.63 h-2.8 M422.5 482.59 h2.8 M717.7 482.59 h-2.8 M422.5 441.54 h2.8 M717.7 441.54 h-2.8" stroke="#9a9a9a" stroke-width="0.9" fill="none"/>
<rect x="422.5" y="400.5" width="295.2" height="287.3" fill="none" stroke="#858585" stroke-width="1"/>
<text x="417.5" y="692.1" text-anchor="end" font-size="10.5">0</text>
<text x="417.5" y="651.06" text-anchor="end" font-size="10.5">0.02</text>
<text x="417.5" y="610.01" text-anchor="end" font-size="10.5">0.04</text>
<text x="417.5" y="568.97" text-anchor="end" font-size="10.5">0.06</text>
<text x="417.5" y="527.93" text-anchor="end" font-size="10.5">0.08</text>
<text x="417.5" y="486.89" text-anchor="end" font-size="10.5">0.1</text>
<text x="417.5" y="445.84" text-anchor="end" font-size="10.5">0.12</text>
<text x="417.5" y="404.8" text-anchor="end" font-size="10.5">0.14</text>
<text x="415.1" y="703.2" font-size="10.5">10<tspan dy="-7.2" dx="-0.9" font-size="8">2</tspan></text>
<text x="474.14" y="703.2" font-size="10.5">10<tspan dy="-7.2" dx="-0.9" font-size="8">3</tspan></text>
<text x="533.18" y="703.2" font-size="10.5">10<tspan dy="-7.2" dx="-0.9" font-size="8">4</tspan></text>
<text x="592.22" y="703.2" font-size="10.5">10<tspan dy="-7.2" dx="-0.9" font-size="8">5</tspan></text>
<text x="651.26" y="703.2" font-size="10.5">10<tspan dy="-7.2" dx="-0.9" font-size="8">6</tspan></text>
<text x="710.3" y="703.2" font-size="10.5">10<tspan dy="-7.2" dx="-0.9" font-size="8">7</tspan></text>
<text x="570.1" y="724.8" text-anchor="middle" font-size="13.3" textLength="47.8" lengthAdjust="spacing">R (ohm)</text>
<text transform="translate(383.9 549.3) rotate(-90)" text-anchor="middle" font-size="13.8" textLength="62.2" lengthAdjust="spacing">Power (W)</text>
<path d="M422.5 686.98 L440.27 686.16 L450.67 685.34 L458.05 684.52 L463.77 683.7 L468.44 682.87 L472.39 682.05 L475.82 681.23 L478.84 680.41 L481.54 679.13 L499.31 670.35 L509.71 661.98 L517.09 654.63 L522.81 646.87 L527.48 639.11 L531.43 632.98 L534.86 627.06 L537.88 622.16 L540.58 617.87 L558.35 687.8 L568.75 687.8 L576.13 687.8 L581.85 687.8 L586.52 687.8 L590.47 687.8 L593.9 687.8 L596.92 687.8 L599.62 687.8 L617.39 687.8 L627.79 687.8 L635.17 687.8 L640.89 687.8 L645.56 687.8 L649.51 687.8 L652.94 687.8 L655.96 687.8 L658.66 687.8 L676.43 687.8 L686.83 687.8 L694.21 687.8 L699.93 687.8 L704.6 687.8 L708.55 687.8 L711.98 687.8 L715 687.8 L717.7 687.8" fill="none" stroke="#0000ff" stroke-width="1.45" stroke-linejoin="round"/>
<g fill="none" stroke="#000" stroke-width="1.35"><circle cx="422.5" cy="686.98" r="2.75"/><circle cx="440.27" cy="686.16" r="2.75"/><circle cx="450.67" cy="685.34" r="2.75"/><circle cx="458.05" cy="684.52" r="2.75"/><circle cx="463.77" cy="683.7" r="2.75"/><circle cx="468.44" cy="682.87" r="2.75"/><circle cx="472.39" cy="682.05" r="2.75"/><circle cx="475.82" cy="681.23" r="2.75"/><circle cx="478.84" cy="680.41" r="2.75"/><circle cx="481.54" cy="679.13" r="2.75"/><circle cx="499.31" cy="670.35" r="2.75"/><circle cx="509.71" cy="661.98" r="2.75"/><circle cx="517.09" cy="654.63" r="2.75"/><circle cx="522.81" cy="646.87" r="2.75"/><circle cx="527.48" cy="639.11" r="2.75"/><circle cx="531.43" cy="632.98" r="2.75"/><circle cx="534.86" cy="627.06" r="2.75"/><circle cx="537.88" cy="622.16" r="2.75"/><circle cx="540.58" cy="617.87" r="2.75"/><circle cx="558.35" cy="687.8" r="2.75"/><circle cx="568.75" cy="687.8" r="2.75"/><circle cx="576.13" cy="687.8" r="2.75"/><circle cx="581.85" cy="687.8" r="2.75"/><circle cx="586.52" cy="687.8" r="2.75"/><circle cx="590.47" cy="687.8" r="2.75"/><circle cx="593.9" cy="687.8" r="2.75"/><circle cx="596.92" cy="687.8" r="2.75"/><circle cx="599.62" cy="687.8" r="2.75"/><circle cx="617.39" cy="687.8" r="2.75"/><circle cx="627.79" cy="687.8" r="2.75"/><circle cx="635.17" cy="687.8" r="2.75"/><circle cx="640.89" cy="687.8" r="2.75"/><circle cx="645.56" cy="687.8" r="2.75"/><circle cx="649.51" cy="687.8" r="2.75"/><circle cx="652.94" cy="687.8" r="2.75"/><circle cx="655.96" cy="687.8" r="2.75"/><circle cx="658.66" cy="687.8" r="2.75"/><circle cx="676.43" cy="687.8" r="2.75"/><circle cx="686.83" cy="687.8" r="2.75"/><circle cx="694.21" cy="687.8" r="2.75"/><circle cx="699.93" cy="687.8" r="2.75"/><circle cx="704.6" cy="687.8" r="2.75"/><circle cx="708.55" cy="687.8" r="2.75"/><circle cx="711.98" cy="687.8" r="2.75"/><circle cx="715" cy="687.8" r="2.75"/><circle cx="717.7" cy="687.8" r="2.75"/></g>
<path d="M422.5 686.36 L440.27 684.93 L450.67 683.49 L458.05 682.05 L463.77 680.62 L468.44 679.18 L472.39 677.74 L475.82 676.31 L478.84 674.87 L481.54 673.01 L499.31 657.9 L509.71 643.4 L517.09 629.1 L522.81 615.42 L527.48 601.54 L531.43 589.08 L534.86 576.83 L537.88 564.78 L540.58 553.55 L558.35 469.21 L568.75 427.97 L576.13 525.37 L581.85 544.16 L586.52 687.8 L590.47 687.8 L593.9 687.8 L596.92 687.8 L599.62 687.8 L617.39 623.59 L627.79 646.46 L635.17 658.92 L640.89 665.04 L645.56 666.88 L649.51 670.35 L652.94 671.98 L655.96 673.41 L658.66 674.64 L676.43 681.17 L686.83 683.01 L694.21 684.44 L699.93 684.65 L704.6 685.26 L708.55 685.26 L711.98 685.67 L715 685.87 L717.7 686.07" fill="none" stroke="#008000" stroke-width="1.45" stroke-linejoin="round"/>
<g fill="none" stroke="#000" stroke-width="1.35"><circle cx="422.5" cy="686.36" r="2.75"/><circle cx="440.27" cy="684.93" r="2.75"/><circle cx="450.67" cy="683.49" r="2.75"/><circle cx="458.05" cy="682.05" r="2.75"/><circle cx="463.77" cy="680.62" r="2.75"/><circle cx="468.44" cy="679.18" r="2.75"/><circle cx="472.39" cy="677.74" r="2.75"/><circle cx="475.82" cy="676.31" r="2.75"/><circle cx="478.84" cy="674.87" r="2.75"/><circle cx="481.54" cy="673.01" r="2.75"/><circle cx="499.31" cy="657.9" r="2.75"/><circle cx="509.71" cy="643.4" r="2.75"/><circle cx="517.09" cy="629.1" r="2.75"/><circle cx="522.81" cy="615.42" r="2.75"/><circle cx="527.48" cy="601.54" r="2.75"/><circle cx="531.43" cy="589.08" r="2.75"/><circle cx="534.86" cy="576.83" r="2.75"/><circle cx="537.88" cy="564.78" r="2.75"/><circle cx="540.58" cy="553.55" r="2.75"/><circle cx="558.35" cy="469.21" r="2.75"/><circle cx="568.75" cy="427.97" r="2.75"/><circle cx="576.13" cy="525.37" r="2.75"/><circle cx="581.85" cy="544.16" r="2.75"/><circle cx="586.52" cy="687.8" r="2.75"/><circle cx="590.47" cy="687.8" r="2.75"/><circle cx="593.9" cy="687.8" r="2.75"/><circle cx="596.92" cy="687.8" r="2.75"/><circle cx="599.62" cy="687.8" r="2.75"/><circle cx="617.39" cy="623.59" r="2.75"/><circle cx="627.79" cy="646.46" r="2.75"/><circle cx="635.17" cy="658.92" r="2.75"/><circle cx="640.89" cy="665.04" r="2.75"/><circle cx="645.56" cy="666.88" r="2.75"/><circle cx="649.51" cy="670.35" r="2.75"/><circle cx="652.94" cy="671.98" r="2.75"/><circle cx="655.96" cy="673.41" r="2.75"/><circle cx="658.66" cy="674.64" r="2.75"/><circle cx="676.43" cy="681.17" r="2.75"/><circle cx="686.83" cy="683.01" r="2.75"/><circle cx="694.21" cy="684.44" r="2.75"/><circle cx="699.93" cy="684.65" r="2.75"/><circle cx="704.6" cy="685.26" r="2.75"/><circle cx="708.55" cy="685.26" r="2.75"/><circle cx="711.98" cy="685.67" r="2.75"/><circle cx="715" cy="685.87" r="2.75"/><circle cx="717.7" cy="686.07" r="2.75"/></g>
<path d="M422.5 685.75 L440.27 683.7 L450.67 681.64 L458.05 679.59 L463.77 677.54 L468.44 675.49 L472.39 673.43 L475.82 671.38 L478.84 669.33 L481.54 667.29 L499.31 647.28 L509.71 626.04 L517.09 606.03 L522.81 585.2 L527.48 566.41 L531.43 548.04 L534.86 529.66 L537.88 513.32 L540.58 497.8 L558.35 544.16 L568.75 514.34 L576.13 483.3 L581.85 493.51 L586.52 484.33 L590.47 492.49 L593.9 495.96 L596.92 515.16 L599.62 535.78 L617.39 600.51 L627.79 627.88 L635.17 639.31 L640.89 649.11 L645.56 655.24 L649.51 659.73 L652.94 663.61 L655.96 665.45 L658.66 666.68 L676.43 680.77 L686.83 683.01 L694.21 683.83 L699.93 684.65 L704.6 685.05 L708.55 685.46 L711.98 685.67 L715 685.87 L717.7 686.28" fill="none" stroke="#ff0000" stroke-width="1.45" stroke-linejoin="round"/>
<g fill="none" stroke="#000" stroke-width="1.35"><circle cx="422.5" cy="685.75" r="2.75"/><circle cx="440.27" cy="683.7" r="2.75"/><circle cx="450.67" cy="681.64" r="2.75"/><circle cx="458.05" cy="679.59" r="2.75"/><circle cx="463.77" cy="677.54" r="2.75"/><circle cx="468.44" cy="675.49" r="2.75"/><circle cx="472.39" cy="673.43" r="2.75"/><circle cx="475.82" cy="671.38" r="2.75"/><circle cx="478.84" cy="669.33" r="2.75"/><circle cx="481.54" cy="667.29" r="2.75"/><circle cx="499.31" cy="647.28" r="2.75"/><circle cx="509.71" cy="626.04" r="2.75"/><circle cx="517.09" cy="606.03" r="2.75"/><circle cx="522.81" cy="585.2" r="2.75"/><circle cx="527.48" cy="566.41" r="2.75"/><circle cx="531.43" cy="548.04" r="2.75"/><circle cx="534.86" cy="529.66" r="2.75"/><circle cx="537.88" cy="513.32" r="2.75"/><circle cx="540.58" cy="497.8" r="2.75"/><circle cx="558.35" cy="544.16" r="2.75"/><circle cx="568.75" cy="514.34" r="2.75"/><circle cx="576.13" cy="483.3" r="2.75"/><circle cx="581.85" cy="493.51" r="2.75"/><circle cx="586.52" cy="484.33" r="2.75"/><circle cx="590.47" cy="492.49" r="2.75"/><circle cx="593.9" cy="495.96" r="2.75"/><circle cx="596.92" cy="515.16" r="2.75"/><circle cx="599.62" cy="535.78" r="2.75"/><circle cx="617.39" cy="600.51" r="2.75"/><circle cx="627.79" cy="627.88" r="2.75"/><circle cx="635.17" cy="639.31" r="2.75"/><circle cx="640.89" cy="649.11" r="2.75"/><circle cx="645.56" cy="655.24" r="2.75"/><circle cx="649.51" cy="659.73" r="2.75"/><circle cx="652.94" cy="663.61" r="2.75"/><circle cx="655.96" cy="665.45" r="2.75"/><circle cx="658.66" cy="666.68" r="2.75"/><circle cx="676.43" cy="680.77" r="2.75"/><circle cx="686.83" cy="683.01" r="2.75"/><circle cx="694.21" cy="683.83" r="2.75"/><circle cx="699.93" cy="684.65" r="2.75"/><circle cx="704.6" cy="685.05" r="2.75"/><circle cx="708.55" cy="685.46" r="2.75"/><circle cx="711.98" cy="685.67" r="2.75"/><circle cx="715" cy="685.87" r="2.75"/><circle cx="717.7" cy="686.28" r="2.75"/></g>
<path d="M422.5 686.98 L440.27 686.16 L450.67 685.34 L458.05 684.52 L463.77 683.7 L468.44 682.87 L472.39 682.05 L475.82 681.23 L478.84 680.41 L481.54 679.13 L499.31 670.35 L509.71 661.98 L517.09 654.63 L522.81 646.87 L527.48 639.11 L531.43 632.98 L534.86 627.06 L537.88 622.16 L540.58 617.87 L558.35 687.8 L568.75 687.8 L576.13 687.8 L581.85 687.8 L586.52 687.8 L590.47 687.8 L593.9 687.8 L596.92 687.8 L599.62 687.8 L617.39 615.22 L627.79 637.48 L635.17 649.52 L640.89 657.08 L645.56 661.77 L649.51 671.98 L652.94 667.29 L655.96 669.13 L658.66 670.96 L676.43 681.99 L686.83 683.62 L694.21 684.44 L699.93 684.24 L704.6 685.26 L708.55 685.46 L711.98 685.05 L715 685.87 L717.7 685.67" fill="none" stroke="#0000ff" stroke-width="1.55" stroke-dasharray="4.3 2.9"/>
<g fill="#0000ff"><circle cx="422.5" cy="686.98" r="1.65"/><circle cx="440.27" cy="686.16" r="1.65"/><circle cx="450.67" cy="685.34" r="1.65"/><circle cx="458.05" cy="684.52" r="1.65"/><circle cx="463.77" cy="683.7" r="1.65"/><circle cx="468.44" cy="682.87" r="1.65"/><circle cx="472.39" cy="682.05" r="1.65"/><circle cx="475.82" cy="681.23" r="1.65"/><circle cx="478.84" cy="680.41" r="1.65"/><circle cx="481.54" cy="679.13" r="1.65"/><circle cx="499.31" cy="670.35" r="1.65"/><circle cx="509.71" cy="661.98" r="1.65"/><circle cx="517.09" cy="654.63" r="1.65"/><circle cx="522.81" cy="646.87" r="1.65"/><circle cx="527.48" cy="639.11" r="1.65"/><circle cx="531.43" cy="632.98" r="1.65"/><circle cx="534.86" cy="627.06" r="1.65"/><circle cx="537.88" cy="622.16" r="1.65"/><circle cx="540.58" cy="617.87" r="1.65"/><circle cx="558.35" cy="687.8" r="1.65"/><circle cx="568.75" cy="687.8" r="1.65"/><circle cx="576.13" cy="687.8" r="1.65"/><circle cx="581.85" cy="687.8" r="1.65"/><circle cx="586.52" cy="687.8" r="1.65"/><circle cx="590.47" cy="687.8" r="1.65"/><circle cx="593.9" cy="687.8" r="1.65"/><circle cx="596.92" cy="687.8" r="1.65"/><circle cx="599.62" cy="687.8" r="1.65"/><circle cx="617.39" cy="615.22" r="1.65"/><circle cx="627.79" cy="637.48" r="1.65"/><circle cx="635.17" cy="649.52" r="1.65"/><circle cx="640.89" cy="657.08" r="1.65"/><circle cx="645.56" cy="661.77" r="1.65"/><circle cx="649.51" cy="671.98" r="1.65"/><circle cx="652.94" cy="667.29" r="1.65"/><circle cx="655.96" cy="669.13" r="1.65"/><circle cx="658.66" cy="670.96" r="1.65"/><circle cx="676.43" cy="681.99" r="1.65"/><circle cx="686.83" cy="683.62" r="1.65"/><circle cx="694.21" cy="684.44" r="1.65"/><circle cx="699.93" cy="684.24" r="1.65"/><circle cx="704.6" cy="685.26" r="1.65"/><circle cx="708.55" cy="685.46" r="1.65"/><circle cx="711.98" cy="685.05" r="1.65"/><circle cx="715" cy="685.87" r="1.65"/><circle cx="717.7" cy="685.67" r="1.65"/></g>
<path d="M422.5 686.36 L440.27 684.93 L450.67 683.49 L458.05 682.05 L463.77 680.62 L468.44 679.18 L472.39 677.74 L475.82 676.31 L478.84 674.87 L481.54 673.01 L499.31 657.9 L509.71 643.4 L517.09 629.1 L522.81 615.42 L527.48 601.54 L531.43 589.08 L534.86 576.83 L537.88 564.78 L540.58 553.55 L558.35 469.21 L568.75 427.97 L576.13 543.34 L581.85 544.77 L586.52 562.13 L590.47 570.5 L593.9 574.99 L596.92 604.39 L599.62 576.62 L617.39 629.1 L627.79 646.46 L635.17 657.69 L640.89 664.84 L645.56 667.29 L649.51 670.56 L652.94 671.37 L655.96 673.01 L658.66 674.23 L676.43 680.97 L686.83 683.01 L694.21 684.03 L699.93 684.85 L704.6 685.26 L708.55 685.26 L711.98 685.67 L715 686.07 L717.7 686.07" fill="none" stroke="#008000" stroke-width="1.55" stroke-dasharray="4.3 2.9"/>
<g fill="#008000"><circle cx="422.5" cy="686.36" r="1.65"/><circle cx="440.27" cy="684.93" r="1.65"/><circle cx="450.67" cy="683.49" r="1.65"/><circle cx="458.05" cy="682.05" r="1.65"/><circle cx="463.77" cy="680.62" r="1.65"/><circle cx="468.44" cy="679.18" r="1.65"/><circle cx="472.39" cy="677.74" r="1.65"/><circle cx="475.82" cy="676.31" r="1.65"/><circle cx="478.84" cy="674.87" r="1.65"/><circle cx="481.54" cy="673.01" r="1.65"/><circle cx="499.31" cy="657.9" r="1.65"/><circle cx="509.71" cy="643.4" r="1.65"/><circle cx="517.09" cy="629.1" r="1.65"/><circle cx="522.81" cy="615.42" r="1.65"/><circle cx="527.48" cy="601.54" r="1.65"/><circle cx="531.43" cy="589.08" r="1.65"/><circle cx="534.86" cy="576.83" r="1.65"/><circle cx="537.88" cy="564.78" r="1.65"/><circle cx="540.58" cy="553.55" r="1.65"/><circle cx="558.35" cy="469.21" r="1.65"/><circle cx="568.75" cy="427.97" r="1.65"/><circle cx="576.13" cy="543.34" r="1.65"/><circle cx="581.85" cy="544.77" r="1.65"/><circle cx="586.52" cy="562.13" r="1.65"/><circle cx="590.47" cy="570.5" r="1.65"/><circle cx="593.9" cy="574.99" r="1.65"/><circle cx="596.92" cy="604.39" r="1.65"/><circle cx="599.62" cy="576.62" r="1.65"/><circle cx="617.39" cy="629.1" r="1.65"/><circle cx="627.79" cy="646.46" r="1.65"/><circle cx="635.17" cy="657.69" r="1.65"/><circle cx="640.89" cy="664.84" r="1.65"/><circle cx="645.56" cy="667.29" r="1.65"/><circle cx="649.51" cy="670.56" r="1.65"/><circle cx="652.94" cy="671.37" r="1.65"/><circle cx="655.96" cy="673.01" r="1.65"/><circle cx="658.66" cy="674.23" r="1.65"/><circle cx="676.43" cy="680.97" r="1.65"/><circle cx="686.83" cy="683.01" r="1.65"/><circle cx="694.21" cy="684.03" r="1.65"/><circle cx="699.93" cy="684.85" r="1.65"/><circle cx="704.6" cy="685.26" r="1.65"/><circle cx="708.55" cy="685.26" r="1.65"/><circle cx="711.98" cy="685.67" r="1.65"/><circle cx="715" cy="686.07" r="1.65"/><circle cx="717.7" cy="686.07" r="1.65"/></g>
<path d="M422.5 685.75 L440.27 683.7 L450.67 681.64 L458.05 679.59 L463.77 677.54 L468.44 675.49 L472.39 673.43 L475.82 671.38 L478.84 669.33 L481.54 667.29 L499.31 647.28 L509.71 626.04 L517.09 606.03 L522.81 585.2 L527.48 566.41 L531.43 548.04 L534.86 529.66 L537.88 513.32 L540.58 497.8 L558.35 544.16 L568.75 508.42 L576.13 483.3 L581.85 479.02 L586.52 479.02 L590.47 489.23 L593.9 495.35 L596.92 509.24 L599.62 530.07 L617.39 599.49 L627.79 627.06 L635.17 638.7 L640.89 648.5 L645.56 654.63 L649.51 659.32 L652.94 663.2 L655.96 665.04 L658.66 666.47 L676.43 680.56 L686.83 682.81 L694.21 683.83 L699.93 684.65 L704.6 685.05 L708.55 685.46 L711.98 685.67 L715 685.87 L717.7 686.28" fill="none" stroke="#ff0000" stroke-width="1.55" stroke-dasharray="4.3 2.9"/>
<g fill="#ff0000"><circle cx="422.5" cy="685.75" r="1.65"/><circle cx="440.27" cy="683.7" r="1.65"/><circle cx="450.67" cy="681.64" r="1.65"/><circle cx="458.05" cy="679.59" r="1.65"/><circle cx="463.77" cy="677.54" r="1.65"/><circle cx="468.44" cy="675.49" r="1.65"/><circle cx="472.39" cy="673.43" r="1.65"/><circle cx="475.82" cy="671.38" r="1.65"/><circle cx="478.84" cy="669.33" r="1.65"/><circle cx="481.54" cy="667.29" r="1.65"/><circle cx="499.31" cy="647.28" r="1.65"/><circle cx="509.71" cy="626.04" r="1.65"/><circle cx="517.09" cy="606.03" r="1.65"/><circle cx="522.81" cy="585.2" r="1.65"/><circle cx="527.48" cy="566.41" r="1.65"/><circle cx="531.43" cy="548.04" r="1.65"/><circle cx="534.86" cy="529.66" r="1.65"/><circle cx="537.88" cy="513.32" r="1.65"/><circle cx="540.58" cy="497.8" r="1.65"/><circle cx="558.35" cy="544.16" r="1.65"/><circle cx="568.75" cy="508.42" r="1.65"/><circle cx="576.13" cy="483.3" r="1.65"/><circle cx="581.85" cy="479.02" r="1.65"/><circle cx="586.52" cy="479.02" r="1.65"/><circle cx="590.47" cy="489.23" r="1.65"/><circle cx="593.9" cy="495.35" r="1.65"/><circle cx="596.92" cy="509.24" r="1.65"/><circle cx="599.62" cy="530.07" r="1.65"/><circle cx="617.39" cy="599.49" r="1.65"/><circle cx="627.79" cy="627.06" r="1.65"/><circle cx="635.17" cy="638.7" r="1.65"/><circle cx="640.89" cy="648.5" r="1.65"/><circle cx="645.56" cy="654.63" r="1.65"/><circle cx="649.51" cy="659.32" r="1.65"/><circle cx="652.94" cy="663.2" r="1.65"/><circle cx="655.96" cy="665.04" r="1.65"/><circle cx="658.66" cy="666.47" r="1.65"/><circle cx="676.43" cy="680.56" r="1.65"/><circle cx="686.83" cy="682.81" r="1.65"/><circle cx="694.21" cy="683.83" r="1.65"/><circle cx="699.93" cy="684.65" r="1.65"/><circle cx="704.6" cy="685.05" r="1.65"/><circle cx="708.55" cy="685.46" r="1.65"/><circle cx="711.98" cy="685.67" r="1.65"/><circle cx="715" cy="685.87" r="1.65"/><circle cx="717.7" cy="686.28" r="1.65"/></g>
<rect x="631.3" y="404" width="83.6" height="78.3" fill="#fff" stroke="#858585" stroke-width="1.1"/>
<path d="M635.2 411.4 H655" stroke="#0000ff" stroke-width="1.45"/>
<circle cx="645.1" cy="411.4" r="2.75" fill="none" stroke="#000" stroke-width="1.35"/>
<text x="657.4" y="416.5" font-size="10.6">f=0.5: small</text>
<path d="M635.2 424.15 H655" stroke="#008000" stroke-width="1.45"/>
<circle cx="645.1" cy="424.15" r="2.75" fill="none" stroke="#000" stroke-width="1.35"/>
<text x="657.4" y="429.25" font-size="10.6">f=1: small</text>
<path d="M635.2 436.9 H655" stroke="#ff0000" stroke-width="1.45"/>
<circle cx="645.1" cy="436.9" r="2.75" fill="none" stroke="#000" stroke-width="1.35"/>
<text x="657.4" y="442" font-size="10.6">f=1.5: small</text>
<path d="M635.2 449.65 h4.3 M655 449.65 h-4.3" stroke="#0000ff" stroke-width="1.55"/>
<circle cx="645.1" cy="449.65" r="1.65" fill="#0000ff"/>
<text x="657.4" y="454.75" font-size="10.6">f=0.5: large</text>
<path d="M635.2 462.4 h4.3 M655 462.4 h-4.3" stroke="#008000" stroke-width="1.55"/>
<circle cx="645.1" cy="462.4" r="1.65" fill="#008000"/>
<text x="657.4" y="467.5" font-size="10.6">f=1: large</text>
<path d="M635.2 475.15 h4.3 M655 475.15 h-4.3" stroke="#ff0000" stroke-width="1.55"/>
<circle cx="645.1" cy="475.15" r="1.65" fill="#ff0000"/>
<text x="657.4" y="480.25" font-size="10.6">f=1.5: large</text>
<text x="480.5" y="756.3" class="cap" font-family="'Liberation Serif', serif" font-size="18.3" fill="#111">(d)</text><text x="512.2" y="756.3" class="cap" font-family="'Liberation Serif', serif" font-size="18.3" fill="#111" textLength="134.2" lengthAdjust="spacing">Harvested power</text>
</g>
</svg></body></html>
